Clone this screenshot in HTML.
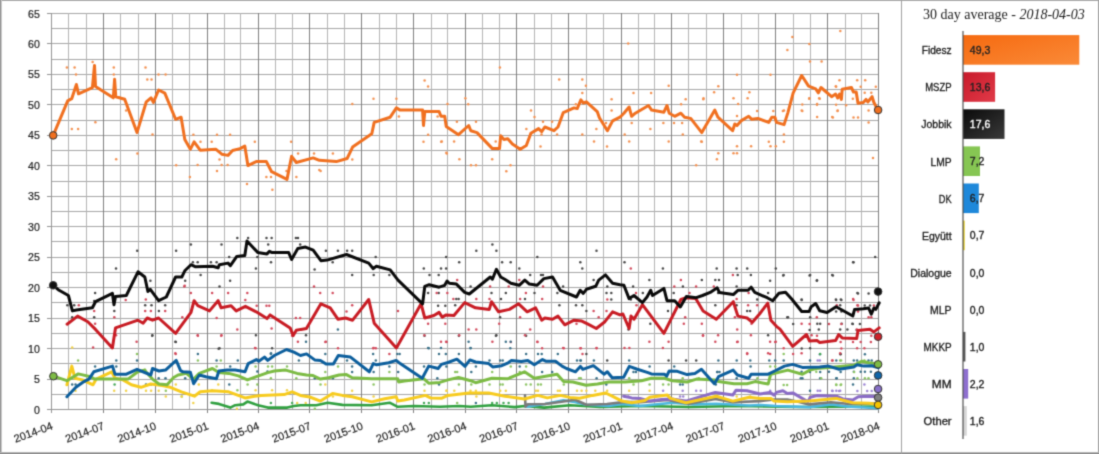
<!DOCTYPE html>
<html><head><meta charset="utf-8"><style>
html,body{margin:0;padding:0;background:#fff;}
body{width:1099px;height:454px;overflow:hidden;position:relative;}
svg{position:absolute;left:0;top:0;}
.yl{font-family:"Liberation Sans",sans-serif;font-size:10.6px;fill:#222;stroke:#222;stroke-width:0.2px;}
.xl{font-family:"Liberation Sans",sans-serif;font-size:11px;fill:#222;stroke:#222;stroke-width:0.2px;}
.bl{font-family:"Liberation Sans",sans-serif;font-size:10px;fill:#1c1c1c;stroke:#1c1c1c;stroke-width:0.3px;}
.bv{font-family:"Liberation Sans",sans-serif;font-size:10.5px;stroke-width:0.35px;}
.tt{font-family:"Liberation Serif",serif;font-size:14px;fill:#222;}
</style></head><body>
<svg width="1099" height="454" viewBox="0 0 1099 454">
<defs>
<filter id="soft" x="0" y="0" width="1099" height="454" filterUnits="userSpaceOnUse" color-interpolation-filters="sRGB"><feConvolveMatrix order="3" kernelMatrix="1 4 1 4 16 4 1 4 1" divisor="36" edgeMode="duplicate"/></filter>
<linearGradient id="gF" x1="0" y1="0" x2="1" y2="1"><stop offset="0" stop-color="#F66A10"/><stop offset="1" stop-color="#FA8A38"/></linearGradient>
<linearGradient id="gM" x1="0" y1="0" x2="1" y2="1"><stop offset="0" stop-color="#C81A2A"/><stop offset="1" stop-color="#E03A48"/></linearGradient>
<linearGradient id="gJ" x1="0" y1="0" x2="1" y2="1"><stop offset="0" stop-color="#0A0A0A"/><stop offset="1" stop-color="#3A3A3A"/></linearGradient>
</defs>
<g filter="url(#soft)">
<rect x="0" y="0" width="1099" height="454" fill="#fff"/>
<rect x="0" y="0" width="1099" height="1" fill="#A8A8A8"/>
<rect x="0" y="0" width="1" height="454" fill="#959595"/><rect x="1" y="0" width="1" height="454" fill="#C8C8C8"/>
<rect x="1098" y="0" width="1" height="454" fill="#A0A0A0"/>
<rect x="0" y="452" width="1099" height="1" fill="#B4B4B4"/><rect x="0" y="453" width="1099" height="1" fill="#8C8C8C"/>
<line x1="901.5" y1="0" x2="901.5" y2="454" stroke="#A0A0A0" stroke-width="1"/>
<line x1="51" y1="409.5" x2="879.0" y2="409.5" stroke="#A6A6A6" stroke-width="1"/>
<line x1="51" y1="394.5" x2="879.0" y2="394.5" stroke="#A6A6A6" stroke-width="1"/>
<line x1="51" y1="379.5" x2="879.0" y2="379.5" stroke="#A6A6A6" stroke-width="1"/>
<line x1="51" y1="363.5" x2="879.0" y2="363.5" stroke="#A6A6A6" stroke-width="1"/>
<line x1="51" y1="348.5" x2="879.0" y2="348.5" stroke="#A6A6A6" stroke-width="1"/>
<line x1="51" y1="333.5" x2="879.0" y2="333.5" stroke="#A6A6A6" stroke-width="1"/>
<line x1="51" y1="318.5" x2="879.0" y2="318.5" stroke="#A6A6A6" stroke-width="1"/>
<line x1="51" y1="302.5" x2="879.0" y2="302.5" stroke="#A6A6A6" stroke-width="1"/>
<line x1="51" y1="287.5" x2="879.0" y2="287.5" stroke="#A6A6A6" stroke-width="1"/>
<line x1="51" y1="272.5" x2="879.0" y2="272.5" stroke="#A6A6A6" stroke-width="1"/>
<line x1="51" y1="257.5" x2="879.0" y2="257.5" stroke="#A6A6A6" stroke-width="1"/>
<line x1="51" y1="241.5" x2="879.0" y2="241.5" stroke="#A6A6A6" stroke-width="1"/>
<line x1="51" y1="226.5" x2="879.0" y2="226.5" stroke="#A6A6A6" stroke-width="1"/>
<line x1="51" y1="211.5" x2="879.0" y2="211.5" stroke="#A6A6A6" stroke-width="1"/>
<line x1="51" y1="196.5" x2="879.0" y2="196.5" stroke="#A6A6A6" stroke-width="1"/>
<line x1="51" y1="181.5" x2="879.0" y2="181.5" stroke="#A6A6A6" stroke-width="1"/>
<line x1="51" y1="165.5" x2="879.0" y2="165.5" stroke="#A6A6A6" stroke-width="1"/>
<line x1="51" y1="150.5" x2="879.0" y2="150.5" stroke="#A6A6A6" stroke-width="1"/>
<line x1="51" y1="135.5" x2="879.0" y2="135.5" stroke="#A6A6A6" stroke-width="1"/>
<line x1="51" y1="120.5" x2="879.0" y2="120.5" stroke="#A6A6A6" stroke-width="1"/>
<line x1="51" y1="104.5" x2="879.0" y2="104.5" stroke="#A6A6A6" stroke-width="1"/>
<line x1="51" y1="89.5" x2="879.0" y2="89.5" stroke="#A6A6A6" stroke-width="1"/>
<line x1="51" y1="74.5" x2="879.0" y2="74.5" stroke="#A6A6A6" stroke-width="1"/>
<line x1="51" y1="59.5" x2="879.0" y2="59.5" stroke="#A6A6A6" stroke-width="1"/>
<line x1="51" y1="43.5" x2="879.0" y2="43.5" stroke="#A6A6A6" stroke-width="1"/>
<line x1="51" y1="28.5" x2="879.0" y2="28.5" stroke="#A6A6A6" stroke-width="1"/>
<line x1="51" y1="13.5" x2="879.0" y2="13.5" stroke="#A6A6A6" stroke-width="1"/>
<line x1="68.5" y1="13" x2="68.5" y2="409" stroke="#B4B4B4" stroke-width="1"/>
<line x1="86.5" y1="13" x2="86.5" y2="409" stroke="#B4B4B4" stroke-width="1"/>
<line x1="103.5" y1="13" x2="103.5" y2="409" stroke="#7F7F7F" stroke-width="1"/>
<line x1="103.5" y1="409" x2="103.5" y2="413" stroke="#808080" stroke-width="1"/>
<line x1="120.5" y1="13" x2="120.5" y2="409" stroke="#B4B4B4" stroke-width="1"/>
<line x1="138.5" y1="13" x2="138.5" y2="409" stroke="#B4B4B4" stroke-width="1"/>
<line x1="155.5" y1="13" x2="155.5" y2="409" stroke="#7F7F7F" stroke-width="1"/>
<line x1="155.5" y1="409" x2="155.5" y2="413" stroke="#808080" stroke-width="1"/>
<line x1="172.5" y1="13" x2="172.5" y2="409" stroke="#B4B4B4" stroke-width="1"/>
<line x1="189.5" y1="13" x2="189.5" y2="409" stroke="#B4B4B4" stroke-width="1"/>
<line x1="207.5" y1="13" x2="207.5" y2="409" stroke="#7F7F7F" stroke-width="1"/>
<line x1="207.5" y1="409" x2="207.5" y2="413" stroke="#808080" stroke-width="1"/>
<line x1="224.5" y1="13" x2="224.5" y2="409" stroke="#B4B4B4" stroke-width="1"/>
<line x1="240.5" y1="13" x2="240.5" y2="409" stroke="#B4B4B4" stroke-width="1"/>
<line x1="258.5" y1="13" x2="258.5" y2="409" stroke="#7F7F7F" stroke-width="1"/>
<line x1="258.5" y1="409" x2="258.5" y2="413" stroke="#808080" stroke-width="1"/>
<line x1="275.5" y1="13" x2="275.5" y2="409" stroke="#B4B4B4" stroke-width="1"/>
<line x1="292.5" y1="13" x2="292.5" y2="409" stroke="#B4B4B4" stroke-width="1"/>
<line x1="309.5" y1="13" x2="309.5" y2="409" stroke="#7F7F7F" stroke-width="1"/>
<line x1="309.5" y1="409" x2="309.5" y2="413" stroke="#808080" stroke-width="1"/>
<line x1="327.5" y1="13" x2="327.5" y2="409" stroke="#B4B4B4" stroke-width="1"/>
<line x1="344.5" y1="13" x2="344.5" y2="409" stroke="#B4B4B4" stroke-width="1"/>
<line x1="361.5" y1="13" x2="361.5" y2="409" stroke="#7F7F7F" stroke-width="1"/>
<line x1="361.5" y1="409" x2="361.5" y2="413" stroke="#808080" stroke-width="1"/>
<line x1="379.5" y1="13" x2="379.5" y2="409" stroke="#B4B4B4" stroke-width="1"/>
<line x1="396.5" y1="13" x2="396.5" y2="409" stroke="#B4B4B4" stroke-width="1"/>
<line x1="413.5" y1="13" x2="413.5" y2="409" stroke="#7F7F7F" stroke-width="1"/>
<line x1="413.5" y1="409" x2="413.5" y2="413" stroke="#808080" stroke-width="1"/>
<line x1="431.5" y1="13" x2="431.5" y2="409" stroke="#B4B4B4" stroke-width="1"/>
<line x1="447.5" y1="13" x2="447.5" y2="409" stroke="#B4B4B4" stroke-width="1"/>
<line x1="465.5" y1="13" x2="465.5" y2="409" stroke="#7F7F7F" stroke-width="1"/>
<line x1="465.5" y1="409" x2="465.5" y2="413" stroke="#808080" stroke-width="1"/>
<line x1="482.5" y1="13" x2="482.5" y2="409" stroke="#B4B4B4" stroke-width="1"/>
<line x1="499.5" y1="13" x2="499.5" y2="409" stroke="#B4B4B4" stroke-width="1"/>
<line x1="516.5" y1="13" x2="516.5" y2="409" stroke="#7F7F7F" stroke-width="1"/>
<line x1="516.5" y1="409" x2="516.5" y2="413" stroke="#808080" stroke-width="1"/>
<line x1="534.5" y1="13" x2="534.5" y2="409" stroke="#B4B4B4" stroke-width="1"/>
<line x1="551.5" y1="13" x2="551.5" y2="409" stroke="#B4B4B4" stroke-width="1"/>
<line x1="568.5" y1="13" x2="568.5" y2="409" stroke="#7F7F7F" stroke-width="1"/>
<line x1="568.5" y1="409" x2="568.5" y2="413" stroke="#808080" stroke-width="1"/>
<line x1="586.5" y1="13" x2="586.5" y2="409" stroke="#B4B4B4" stroke-width="1"/>
<line x1="603.5" y1="13" x2="603.5" y2="409" stroke="#B4B4B4" stroke-width="1"/>
<line x1="621.5" y1="13" x2="621.5" y2="409" stroke="#7F7F7F" stroke-width="1"/>
<line x1="621.5" y1="409" x2="621.5" y2="413" stroke="#808080" stroke-width="1"/>
<line x1="638.5" y1="13" x2="638.5" y2="409" stroke="#B4B4B4" stroke-width="1"/>
<line x1="654.5" y1="13" x2="654.5" y2="409" stroke="#B4B4B4" stroke-width="1"/>
<line x1="671.5" y1="13" x2="671.5" y2="409" stroke="#7F7F7F" stroke-width="1"/>
<line x1="671.5" y1="409" x2="671.5" y2="413" stroke="#808080" stroke-width="1"/>
<line x1="688.5" y1="13" x2="688.5" y2="409" stroke="#B4B4B4" stroke-width="1"/>
<line x1="706.5" y1="13" x2="706.5" y2="409" stroke="#B4B4B4" stroke-width="1"/>
<line x1="723.5" y1="13" x2="723.5" y2="409" stroke="#7F7F7F" stroke-width="1"/>
<line x1="723.5" y1="409" x2="723.5" y2="413" stroke="#808080" stroke-width="1"/>
<line x1="741.5" y1="13" x2="741.5" y2="409" stroke="#B4B4B4" stroke-width="1"/>
<line x1="758.5" y1="13" x2="758.5" y2="409" stroke="#B4B4B4" stroke-width="1"/>
<line x1="775.5" y1="13" x2="775.5" y2="409" stroke="#7F7F7F" stroke-width="1"/>
<line x1="775.5" y1="409" x2="775.5" y2="413" stroke="#808080" stroke-width="1"/>
<line x1="793.5" y1="13" x2="793.5" y2="409" stroke="#B4B4B4" stroke-width="1"/>
<line x1="810.5" y1="13" x2="810.5" y2="409" stroke="#B4B4B4" stroke-width="1"/>
<line x1="827.5" y1="13" x2="827.5" y2="409" stroke="#7F7F7F" stroke-width="1"/>
<line x1="827.5" y1="409" x2="827.5" y2="413" stroke="#808080" stroke-width="1"/>
<line x1="845.5" y1="13" x2="845.5" y2="409" stroke="#B4B4B4" stroke-width="1"/>
<line x1="861.5" y1="13" x2="861.5" y2="409" stroke="#B4B4B4" stroke-width="1"/>
<line x1="878.5" y1="13" x2="878.5" y2="409" stroke="#7F7F7F" stroke-width="1"/>
<line x1="878.5" y1="409" x2="878.5" y2="413" stroke="#808080" stroke-width="1"/>
<line x1="51.5" y1="13" x2="51.5" y2="413" stroke="#959595" stroke-width="1"/>
<line x1="47" y1="409.5" x2="879.0" y2="409.5" stroke="#959595" stroke-width="1"/>
<line x1="47" y1="409.5" x2="51" y2="409.5" stroke="#959595" stroke-width="1"/>
<line x1="47" y1="379.5" x2="51" y2="379.5" stroke="#959595" stroke-width="1"/>
<line x1="47" y1="348.5" x2="51" y2="348.5" stroke="#959595" stroke-width="1"/>
<line x1="47" y1="318.5" x2="51" y2="318.5" stroke="#959595" stroke-width="1"/>
<line x1="47" y1="287.5" x2="51" y2="287.5" stroke="#959595" stroke-width="1"/>
<line x1="47" y1="257.5" x2="51" y2="257.5" stroke="#959595" stroke-width="1"/>
<line x1="47" y1="226.5" x2="51" y2="226.5" stroke="#959595" stroke-width="1"/>
<line x1="47" y1="196.5" x2="51" y2="196.5" stroke="#959595" stroke-width="1"/>
<line x1="47" y1="165.5" x2="51" y2="165.5" stroke="#959595" stroke-width="1"/>
<line x1="47" y1="135.5" x2="51" y2="135.5" stroke="#959595" stroke-width="1"/>
<line x1="47" y1="104.5" x2="51" y2="104.5" stroke="#959595" stroke-width="1"/>
<line x1="47" y1="74.5" x2="51" y2="74.5" stroke="#959595" stroke-width="1"/>
<line x1="47" y1="43.5" x2="51" y2="43.5" stroke="#959595" stroke-width="1"/>
<line x1="47" y1="13.5" x2="51" y2="13.5" stroke="#959595" stroke-width="1"/>
<text x="39.8" y="413.5" text-anchor="end" class="yl">0</text>
<text x="39.8" y="383.0" text-anchor="end" class="yl">5</text>
<text x="39.8" y="352.6" text-anchor="end" class="yl">10</text>
<text x="39.8" y="322.1" text-anchor="end" class="yl">15</text>
<text x="39.8" y="291.6" text-anchor="end" class="yl">20</text>
<text x="39.8" y="261.2" text-anchor="end" class="yl">25</text>
<text x="39.8" y="230.7" text-anchor="end" class="yl">30</text>
<text x="39.8" y="200.3" text-anchor="end" class="yl">35</text>
<text x="39.8" y="169.8" text-anchor="end" class="yl">40</text>
<text x="39.8" y="139.3" text-anchor="end" class="yl">45</text>
<text x="39.8" y="108.9" text-anchor="end" class="yl">50</text>
<text x="39.8" y="78.4" text-anchor="end" class="yl">55</text>
<text x="39.8" y="48.0" text-anchor="end" class="yl">60</text>
<text x="39.8" y="17.5" text-anchor="end" class="yl">65</text>
<text x="53.5" y="429.0" text-anchor="end" class="xl" transform="rotate(-20 53.5 429.0)">2014-04</text>
<text x="105.0" y="429.0" text-anchor="end" class="xl" transform="rotate(-20 105.0 429.0)">2014-07</text>
<text x="157.1" y="429.0" text-anchor="end" class="xl" transform="rotate(-20 157.1 429.0)">2014-10</text>
<text x="209.2" y="429.0" text-anchor="end" class="xl" transform="rotate(-20 209.2 429.0)">2015-01</text>
<text x="260.1" y="429.0" text-anchor="end" class="xl" transform="rotate(-20 260.1 429.0)">2015-04</text>
<text x="311.7" y="429.0" text-anchor="end" class="xl" transform="rotate(-20 311.7 429.0)">2015-07</text>
<text x="363.7" y="429.0" text-anchor="end" class="xl" transform="rotate(-20 363.7 429.0)">2015-10</text>
<text x="415.8" y="429.0" text-anchor="end" class="xl" transform="rotate(-20 415.8 429.0)">2016-01</text>
<text x="467.3" y="429.0" text-anchor="end" class="xl" transform="rotate(-20 467.3 429.0)">2016-04</text>
<text x="518.9" y="429.0" text-anchor="end" class="xl" transform="rotate(-20 518.9 429.0)">2016-07</text>
<text x="570.9" y="429.0" text-anchor="end" class="xl" transform="rotate(-20 570.9 429.0)">2016-10</text>
<text x="623.0" y="429.0" text-anchor="end" class="xl" transform="rotate(-20 623.0 429.0)">2017-01</text>
<text x="674.0" y="429.0" text-anchor="end" class="xl" transform="rotate(-20 674.0 429.0)">2017-04</text>
<text x="725.5" y="429.0" text-anchor="end" class="xl" transform="rotate(-20 725.5 429.0)">2017-07</text>
<text x="777.6" y="429.0" text-anchor="end" class="xl" transform="rotate(-20 777.6 429.0)">2017-10</text>
<text x="829.7" y="429.0" text-anchor="end" class="xl" transform="rotate(-20 829.7 429.0)">2018-01</text>
<text x="880.6" y="429.0" text-anchor="end" class="xl" transform="rotate(-20 880.6 429.0)">2018-04</text>
<circle cx="66.9" cy="67.5" r="1.25" fill="#F39050"/>
<circle cx="74.6" cy="67.5" r="1.25" fill="#F39050"/>
<circle cx="76.0" cy="74.6" r="1.25" fill="#F39050"/>
<circle cx="92.6" cy="61.9" r="1.25" fill="#F39050"/>
<circle cx="113.8" cy="67.5" r="1.25" fill="#F39050"/>
<circle cx="113.8" cy="74.6" r="1.25" fill="#F39050"/>
<circle cx="145.5" cy="67.5" r="1.25" fill="#F39050"/>
<circle cx="147.3" cy="79.5" r="1.25" fill="#F39050"/>
<circle cx="151.5" cy="79.5" r="1.25" fill="#F39050"/>
<circle cx="158.5" cy="74.6" r="1.25" fill="#F39050"/>
<circle cx="165.6" cy="74.6" r="1.25" fill="#F39050"/>
<circle cx="71.8" cy="128.9" r="1.25" fill="#F39050"/>
<circle cx="78.1" cy="128.9" r="1.25" fill="#F39050"/>
<circle cx="95.4" cy="122.2" r="1.25" fill="#F39050"/>
<circle cx="126.1" cy="110.5" r="1.25" fill="#F39050"/>
<circle cx="152.5" cy="134.5" r="1.25" fill="#F39050"/>
<circle cx="137.4" cy="153.5" r="1.25" fill="#F39050"/>
<circle cx="116.2" cy="159.2" r="1.25" fill="#F39050"/>
<circle cx="176.2" cy="165.2" r="1.25" fill="#F39050"/>
<circle cx="193.4" cy="134.8" r="1.25" fill="#F39050"/>
<circle cx="200.5" cy="141.8" r="1.25" fill="#F39050"/>
<circle cx="211.7" cy="141.8" r="1.25" fill="#F39050"/>
<circle cx="217.0" cy="134.8" r="1.25" fill="#F39050"/>
<circle cx="230.1" cy="134.8" r="1.25" fill="#F39050"/>
<circle cx="254.8" cy="141.8" r="1.25" fill="#F39050"/>
<circle cx="219.5" cy="159.4" r="1.25" fill="#F39050"/>
<circle cx="221.6" cy="165.1" r="1.25" fill="#F39050"/>
<circle cx="227.6" cy="165.1" r="1.25" fill="#F39050"/>
<circle cx="197.6" cy="165.1" r="1.25" fill="#F39050"/>
<circle cx="189.9" cy="177.1" r="1.25" fill="#F39050"/>
<circle cx="217.0" cy="171.1" r="1.25" fill="#F39050"/>
<circle cx="247.0" cy="184.1" r="1.25" fill="#F39050"/>
<circle cx="266.4" cy="177.1" r="1.25" fill="#F39050"/>
<circle cx="271.0" cy="177.1" r="1.25" fill="#F39050"/>
<circle cx="272.4" cy="189.8" r="1.25" fill="#F39050"/>
<circle cx="291.1" cy="141.8" r="1.25" fill="#F39050"/>
<circle cx="298.1" cy="153.4" r="1.25" fill="#F39050"/>
<circle cx="314.0" cy="153.4" r="1.25" fill="#F39050"/>
<circle cx="296.4" cy="177.1" r="1.25" fill="#F39050"/>
<circle cx="286.5" cy="171.1" r="1.25" fill="#F39050"/>
<circle cx="319.3" cy="170.0" r="1.25" fill="#F39050"/>
<circle cx="332.9" cy="153.4" r="1.25" fill="#F39050"/>
<circle cx="320.6" cy="171.1" r="1.25" fill="#F39050"/>
<circle cx="352.3" cy="159.4" r="1.25" fill="#F39050"/>
<circle cx="352.3" cy="104.1" r="1.25" fill="#F39050"/>
<circle cx="373.5" cy="98.8" r="1.25" fill="#F39050"/>
<circle cx="396.4" cy="98.8" r="1.25" fill="#F39050"/>
<circle cx="398.9" cy="116.4" r="1.25" fill="#F39050"/>
<circle cx="424.6" cy="80.5" r="1.25" fill="#F39050"/>
<circle cx="428.1" cy="86.4" r="1.25" fill="#F39050"/>
<circle cx="428.1" cy="134.8" r="1.25" fill="#F39050"/>
<circle cx="423.5" cy="141.8" r="1.25" fill="#F39050"/>
<circle cx="441.2" cy="141.8" r="1.25" fill="#F39050"/>
<circle cx="446.8" cy="153.4" r="1.25" fill="#F39050"/>
<circle cx="447.5" cy="104.1" r="1.25" fill="#F39050"/>
<circle cx="437.6" cy="116.4" r="1.25" fill="#F39050"/>
<circle cx="499.9" cy="67.5" r="1.25" fill="#F39050"/>
<circle cx="559.2" cy="79.5" r="1.25" fill="#F39050"/>
<circle cx="465.4" cy="98.2" r="1.25" fill="#F39050"/>
<circle cx="468.2" cy="104.2" r="1.25" fill="#F39050"/>
<circle cx="456.9" cy="121.8" r="1.25" fill="#F39050"/>
<circle cx="476.0" cy="121.8" r="1.25" fill="#F39050"/>
<circle cx="441.8" cy="141.6" r="1.25" fill="#F39050"/>
<circle cx="454.1" cy="141.6" r="1.25" fill="#F39050"/>
<circle cx="446.3" cy="152.8" r="1.25" fill="#F39050"/>
<circle cx="459.4" cy="159.2" r="1.25" fill="#F39050"/>
<circle cx="471.0" cy="165.2" r="1.25" fill="#F39050"/>
<circle cx="476.0" cy="165.2" r="1.25" fill="#F39050"/>
<circle cx="492.2" cy="159.2" r="1.25" fill="#F39050"/>
<circle cx="495.7" cy="141.6" r="1.25" fill="#F39050"/>
<circle cx="506.3" cy="171.2" r="1.25" fill="#F39050"/>
<circle cx="510.5" cy="165.2" r="1.25" fill="#F39050"/>
<circle cx="531.0" cy="110.5" r="1.25" fill="#F39050"/>
<circle cx="534.5" cy="116.9" r="1.25" fill="#F39050"/>
<circle cx="526.4" cy="128.9" r="1.25" fill="#F39050"/>
<circle cx="543.0" cy="121.8" r="1.25" fill="#F39050"/>
<circle cx="552.1" cy="121.8" r="1.25" fill="#F39050"/>
<circle cx="541.5" cy="134.5" r="1.25" fill="#F39050"/>
<circle cx="557.1" cy="134.5" r="1.25" fill="#F39050"/>
<circle cx="540.5" cy="146.5" r="1.25" fill="#F39050"/>
<circle cx="575.8" cy="104.2" r="1.25" fill="#F39050"/>
<circle cx="628.2" cy="43.5" r="1.25" fill="#F39050"/>
<circle cx="582.3" cy="79.5" r="1.25" fill="#F39050"/>
<circle cx="585.9" cy="85.8" r="1.25" fill="#F39050"/>
<circle cx="582.3" cy="92.9" r="1.25" fill="#F39050"/>
<circle cx="611.6" cy="99.2" r="1.25" fill="#F39050"/>
<circle cx="633.5" cy="92.9" r="1.25" fill="#F39050"/>
<circle cx="651.1" cy="92.9" r="1.25" fill="#F39050"/>
<circle cx="668.7" cy="85.8" r="1.25" fill="#F39050"/>
<circle cx="685.7" cy="99.2" r="1.25" fill="#F39050"/>
<circle cx="703.3" cy="99.2" r="1.25" fill="#F39050"/>
<circle cx="681.1" cy="104.2" r="1.25" fill="#F39050"/>
<circle cx="611.6" cy="110.5" r="1.25" fill="#F39050"/>
<circle cx="596.4" cy="128.9" r="1.25" fill="#F39050"/>
<circle cx="582.3" cy="134.5" r="1.25" fill="#F39050"/>
<circle cx="594.0" cy="141.6" r="1.25" fill="#F39050"/>
<circle cx="606.0" cy="122.9" r="1.25" fill="#F39050"/>
<circle cx="607.0" cy="146.5" r="1.25" fill="#F39050"/>
<circle cx="624.7" cy="134.5" r="1.25" fill="#F39050"/>
<circle cx="629.2" cy="141.6" r="1.25" fill="#F39050"/>
<circle cx="631.7" cy="122.9" r="1.25" fill="#F39050"/>
<circle cx="650.4" cy="128.9" r="1.25" fill="#F39050"/>
<circle cx="663.4" cy="122.9" r="1.25" fill="#F39050"/>
<circle cx="674.0" cy="122.9" r="1.25" fill="#F39050"/>
<circle cx="682.1" cy="122.9" r="1.25" fill="#F39050"/>
<circle cx="682.8" cy="134.5" r="1.25" fill="#F39050"/>
<circle cx="668.7" cy="141.6" r="1.25" fill="#F39050"/>
<circle cx="701.2" cy="141.6" r="1.25" fill="#F39050"/>
<circle cx="696.2" cy="165.2" r="1.25" fill="#F39050"/>
<circle cx="792.4" cy="36.9" r="1.25" fill="#F39050"/>
<circle cx="787.4" cy="50.0" r="1.25" fill="#F39050"/>
<circle cx="809.3" cy="44.0" r="1.25" fill="#F39050"/>
<circle cx="810.0" cy="61.6" r="1.25" fill="#F39050"/>
<circle cx="821.6" cy="61.6" r="1.25" fill="#F39050"/>
<circle cx="737.0" cy="74.7" r="1.25" fill="#F39050"/>
<circle cx="770.5" cy="74.7" r="1.25" fill="#F39050"/>
<circle cx="718.3" cy="86.3" r="1.25" fill="#F39050"/>
<circle cx="714.1" cy="92.3" r="1.25" fill="#F39050"/>
<circle cx="703.5" cy="98.3" r="1.25" fill="#F39050"/>
<circle cx="733.5" cy="98.3" r="1.25" fill="#F39050"/>
<circle cx="749.4" cy="92.3" r="1.25" fill="#F39050"/>
<circle cx="738.1" cy="103.9" r="1.25" fill="#F39050"/>
<circle cx="747.6" cy="98.3" r="1.25" fill="#F39050"/>
<circle cx="757.1" cy="111.0" r="1.25" fill="#F39050"/>
<circle cx="773.3" cy="111.0" r="1.25" fill="#F39050"/>
<circle cx="782.9" cy="111.0" r="1.25" fill="#F39050"/>
<circle cx="737.0" cy="115.9" r="1.25" fill="#F39050"/>
<circle cx="802.3" cy="104.6" r="1.25" fill="#F39050"/>
<circle cx="802.3" cy="111.0" r="1.25" fill="#F39050"/>
<circle cx="809.3" cy="98.3" r="1.25" fill="#F39050"/>
<circle cx="819.2" cy="98.3" r="1.25" fill="#F39050"/>
<circle cx="817.1" cy="103.9" r="1.25" fill="#F39050"/>
<circle cx="835.8" cy="86.3" r="1.25" fill="#F39050"/>
<circle cx="837.5" cy="111.0" r="1.25" fill="#F39050"/>
<circle cx="832.2" cy="117.0" r="1.25" fill="#F39050"/>
<circle cx="817.1" cy="117.0" r="1.25" fill="#F39050"/>
<circle cx="701.8" cy="141.7" r="1.25" fill="#F39050"/>
<circle cx="718.3" cy="153.3" r="1.25" fill="#F39050"/>
<circle cx="716.9" cy="159.3" r="1.25" fill="#F39050"/>
<circle cx="733.5" cy="153.3" r="1.25" fill="#F39050"/>
<circle cx="737.0" cy="153.3" r="1.25" fill="#F39050"/>
<circle cx="737.0" cy="146.2" r="1.25" fill="#F39050"/>
<circle cx="751.1" cy="146.2" r="1.25" fill="#F39050"/>
<circle cx="768.8" cy="141.7" r="1.25" fill="#F39050"/>
<circle cx="770.5" cy="146.2" r="1.25" fill="#F39050"/>
<circle cx="775.8" cy="146.2" r="1.25" fill="#F39050"/>
<circle cx="783.9" cy="134.6" r="1.25" fill="#F39050"/>
<circle cx="783.9" cy="141.7" r="1.25" fill="#F39050"/>
<circle cx="840.3" cy="31.1" r="1.25" fill="#F39050"/>
<circle cx="839.5" cy="80.3" r="1.25" fill="#F39050"/>
<circle cx="857.2" cy="80.3" r="1.25" fill="#F39050"/>
<circle cx="865.2" cy="80.3" r="1.25" fill="#F39050"/>
<circle cx="836.1" cy="86.7" r="1.25" fill="#F39050"/>
<circle cx="860.7" cy="86.7" r="1.25" fill="#F39050"/>
<circle cx="875.8" cy="86.7" r="1.25" fill="#F39050"/>
<circle cx="864.7" cy="92.8" r="1.25" fill="#F39050"/>
<circle cx="871.3" cy="92.8" r="1.25" fill="#F39050"/>
<circle cx="809.1" cy="98.8" r="1.25" fill="#F39050"/>
<circle cx="819.7" cy="98.8" r="1.25" fill="#F39050"/>
<circle cx="852.8" cy="98.8" r="1.25" fill="#F39050"/>
<circle cx="817.0" cy="104.7" r="1.25" fill="#F39050"/>
<circle cx="836.1" cy="104.7" r="1.25" fill="#F39050"/>
<circle cx="846.1" cy="105.2" r="1.25" fill="#F39050"/>
<circle cx="784.0" cy="110.5" r="1.25" fill="#F39050"/>
<circle cx="801.7" cy="110.5" r="1.25" fill="#F39050"/>
<circle cx="837.7" cy="110.5" r="1.25" fill="#F39050"/>
<circle cx="868.6" cy="110.5" r="1.25" fill="#F39050"/>
<circle cx="832.9" cy="117.4" r="1.25" fill="#F39050"/>
<circle cx="853.5" cy="117.4" r="1.25" fill="#F39050"/>
<circle cx="858.0" cy="117.4" r="1.25" fill="#F39050"/>
<circle cx="868.6" cy="122.6" r="1.25" fill="#F39050"/>
<circle cx="873.0" cy="158.0" r="1.25" fill="#F39050"/>
<circle cx="137.2" cy="250.8" r="1.25" fill="#484848"/>
<circle cx="176.1" cy="250.8" r="1.25" fill="#484848"/>
<circle cx="116.0" cy="268.5" r="1.25" fill="#484848"/>
<circle cx="150.4" cy="280.8" r="1.25" fill="#484848"/>
<circle cx="95.1" cy="293.1" r="1.25" fill="#484848"/>
<circle cx="67.3" cy="305.2" r="1.25" fill="#484848"/>
<circle cx="74.2" cy="305.2" r="1.25" fill="#484848"/>
<circle cx="94.2" cy="300.9" r="1.25" fill="#484848"/>
<circle cx="145.2" cy="305.2" r="1.25" fill="#484848"/>
<circle cx="151.5" cy="305.2" r="1.25" fill="#484848"/>
<circle cx="165.2" cy="305.2" r="1.25" fill="#484848"/>
<circle cx="158.9" cy="310.9" r="1.25" fill="#484848"/>
<circle cx="114.3" cy="310.9" r="1.25" fill="#484848"/>
<circle cx="94.2" cy="317.2" r="1.25" fill="#484848"/>
<circle cx="72.2" cy="317.2" r="1.25" fill="#484848"/>
<circle cx="152.4" cy="335.2" r="1.25" fill="#484848"/>
<circle cx="175.3" cy="341.8" r="1.25" fill="#484848"/>
<circle cx="190.9" cy="244.5" r="1.25" fill="#484848"/>
<circle cx="221.5" cy="244.5" r="1.25" fill="#484848"/>
<circle cx="237.3" cy="237.9" r="1.25" fill="#484848"/>
<circle cx="248.1" cy="237.9" r="1.25" fill="#484848"/>
<circle cx="266.5" cy="237.9" r="1.25" fill="#484848"/>
<circle cx="271.6" cy="237.9" r="1.25" fill="#484848"/>
<circle cx="268.2" cy="244.5" r="1.25" fill="#484848"/>
<circle cx="295.9" cy="237.9" r="1.25" fill="#484848"/>
<circle cx="298.0" cy="237.9" r="1.25" fill="#484848"/>
<circle cx="300.2" cy="244.5" r="1.25" fill="#484848"/>
<circle cx="192.9" cy="262.2" r="1.25" fill="#484848"/>
<circle cx="197.7" cy="262.2" r="1.25" fill="#484848"/>
<circle cx="210.9" cy="262.2" r="1.25" fill="#484848"/>
<circle cx="216.6" cy="262.2" r="1.25" fill="#484848"/>
<circle cx="229.2" cy="257.1" r="1.25" fill="#484848"/>
<circle cx="257.3" cy="257.1" r="1.25" fill="#484848"/>
<circle cx="271.0" cy="262.2" r="1.25" fill="#484848"/>
<circle cx="255.9" cy="268.5" r="1.25" fill="#484848"/>
<circle cx="200.6" cy="275.1" r="1.25" fill="#484848"/>
<circle cx="185.2" cy="280.8" r="1.25" fill="#484848"/>
<circle cx="230.1" cy="280.8" r="1.25" fill="#484848"/>
<circle cx="314.6" cy="269.4" r="1.25" fill="#484848"/>
<circle cx="219.5" cy="286.6" r="1.25" fill="#484848"/>
<circle cx="255.9" cy="335.2" r="1.25" fill="#484848"/>
<circle cx="218.6" cy="348.7" r="1.25" fill="#484848"/>
<circle cx="306.0" cy="335.2" r="1.25" fill="#484848"/>
<circle cx="325.9" cy="250.8" r="1.25" fill="#484848"/>
<circle cx="337.9" cy="250.8" r="1.25" fill="#484848"/>
<circle cx="347.1" cy="250.8" r="1.25" fill="#484848"/>
<circle cx="352.2" cy="250.8" r="1.25" fill="#484848"/>
<circle cx="332.7" cy="262.2" r="1.25" fill="#484848"/>
<circle cx="375.7" cy="257.1" r="1.25" fill="#484848"/>
<circle cx="352.2" cy="275.1" r="1.25" fill="#484848"/>
<circle cx="373.7" cy="275.1" r="1.25" fill="#484848"/>
<circle cx="389.4" cy="275.1" r="1.25" fill="#484848"/>
<circle cx="423.8" cy="268.5" r="1.25" fill="#484848"/>
<circle cx="441.0" cy="268.5" r="1.25" fill="#484848"/>
<circle cx="446.1" cy="268.5" r="1.25" fill="#484848"/>
<circle cx="429.5" cy="275.1" r="1.25" fill="#484848"/>
<circle cx="438.7" cy="275.1" r="1.25" fill="#484848"/>
<circle cx="446.1" cy="257.1" r="1.25" fill="#484848"/>
<circle cx="428.1" cy="293.1" r="1.25" fill="#484848"/>
<circle cx="438.7" cy="293.1" r="1.25" fill="#484848"/>
<circle cx="438.1" cy="305.7" r="1.25" fill="#484848"/>
<circle cx="445.3" cy="305.7" r="1.25" fill="#484848"/>
<circle cx="492.4" cy="244.5" r="1.25" fill="#484848"/>
<circle cx="476.3" cy="250.8" r="1.25" fill="#484848"/>
<circle cx="496.4" cy="250.8" r="1.25" fill="#484848"/>
<circle cx="537.3" cy="257.1" r="1.25" fill="#484848"/>
<circle cx="459.2" cy="262.2" r="1.25" fill="#484848"/>
<circle cx="502.1" cy="262.2" r="1.25" fill="#484848"/>
<circle cx="510.7" cy="262.2" r="1.25" fill="#484848"/>
<circle cx="580.3" cy="262.2" r="1.25" fill="#484848"/>
<circle cx="519.3" cy="268.5" r="1.25" fill="#484848"/>
<circle cx="582.3" cy="268.5" r="1.25" fill="#484848"/>
<circle cx="530.2" cy="275.1" r="1.25" fill="#484848"/>
<circle cx="541.0" cy="275.1" r="1.25" fill="#484848"/>
<circle cx="543.0" cy="275.1" r="1.25" fill="#484848"/>
<circle cx="470.6" cy="286.6" r="1.25" fill="#484848"/>
<circle cx="491.5" cy="293.1" r="1.25" fill="#484848"/>
<circle cx="505.8" cy="293.1" r="1.25" fill="#484848"/>
<circle cx="534.5" cy="293.1" r="1.25" fill="#484848"/>
<circle cx="557.4" cy="293.1" r="1.25" fill="#484848"/>
<circle cx="563.1" cy="286.6" r="1.25" fill="#484848"/>
<circle cx="456.3" cy="298.9" r="1.25" fill="#484848"/>
<circle cx="458.6" cy="298.9" r="1.25" fill="#484848"/>
<circle cx="501.0" cy="298.9" r="1.25" fill="#484848"/>
<circle cx="525.0" cy="298.9" r="1.25" fill="#484848"/>
<circle cx="455.2" cy="305.2" r="1.25" fill="#484848"/>
<circle cx="559.4" cy="305.2" r="1.25" fill="#484848"/>
<circle cx="576.0" cy="305.2" r="1.25" fill="#484848"/>
<circle cx="582.3" cy="305.2" r="1.25" fill="#484848"/>
<circle cx="500.1" cy="317.2" r="1.25" fill="#484848"/>
<circle cx="496.4" cy="335.2" r="1.25" fill="#484848"/>
<circle cx="596.5" cy="250.8" r="1.25" fill="#484848"/>
<circle cx="624.5" cy="262.2" r="1.25" fill="#484848"/>
<circle cx="662.9" cy="268.5" r="1.25" fill="#484848"/>
<circle cx="716.7" cy="268.5" r="1.25" fill="#484848"/>
<circle cx="593.6" cy="280.0" r="1.25" fill="#484848"/>
<circle cx="649.4" cy="280.0" r="1.25" fill="#484848"/>
<circle cx="701.8" cy="280.0" r="1.25" fill="#484848"/>
<circle cx="715.3" cy="280.0" r="1.25" fill="#484848"/>
<circle cx="719.0" cy="280.0" r="1.25" fill="#484848"/>
<circle cx="607.3" cy="286.6" r="1.25" fill="#484848"/>
<circle cx="633.1" cy="286.6" r="1.25" fill="#484848"/>
<circle cx="682.9" cy="286.6" r="1.25" fill="#484848"/>
<circle cx="606.5" cy="293.1" r="1.25" fill="#484848"/>
<circle cx="611.3" cy="293.1" r="1.25" fill="#484848"/>
<circle cx="642.8" cy="293.1" r="1.25" fill="#484848"/>
<circle cx="673.7" cy="293.1" r="1.25" fill="#484848"/>
<circle cx="611.3" cy="299.4" r="1.25" fill="#484848"/>
<circle cx="630.8" cy="299.4" r="1.25" fill="#484848"/>
<circle cx="718.1" cy="293.1" r="1.25" fill="#484848"/>
<circle cx="715.3" cy="305.2" r="1.25" fill="#484848"/>
<circle cx="586.4" cy="310.9" r="1.25" fill="#484848"/>
<circle cx="668.0" cy="310.9" r="1.25" fill="#484848"/>
<circle cx="650.3" cy="323.8" r="1.25" fill="#484848"/>
<circle cx="628.5" cy="329.5" r="1.25" fill="#484848"/>
<circle cx="736.6" cy="268.5" r="1.25" fill="#484848"/>
<circle cx="747.2" cy="268.5" r="1.25" fill="#484848"/>
<circle cx="775.8" cy="268.5" r="1.25" fill="#484848"/>
<circle cx="853.1" cy="262.2" r="1.25" fill="#484848"/>
<circle cx="737.7" cy="275.1" r="1.25" fill="#484848"/>
<circle cx="750.9" cy="275.1" r="1.25" fill="#484848"/>
<circle cx="783.6" cy="275.1" r="1.25" fill="#484848"/>
<circle cx="810.2" cy="275.1" r="1.25" fill="#484848"/>
<circle cx="832.2" cy="275.1" r="1.25" fill="#484848"/>
<circle cx="770.1" cy="280.8" r="1.25" fill="#484848"/>
<circle cx="816.8" cy="280.8" r="1.25" fill="#484848"/>
<circle cx="736.6" cy="286.6" r="1.25" fill="#484848"/>
<circle cx="768.1" cy="293.1" r="1.25" fill="#484848"/>
<circle cx="757.2" cy="299.4" r="1.25" fill="#484848"/>
<circle cx="857.4" cy="293.1" r="1.25" fill="#484848"/>
<circle cx="801.6" cy="299.4" r="1.25" fill="#484848"/>
<circle cx="835.9" cy="299.4" r="1.25" fill="#484848"/>
<circle cx="840.8" cy="299.4" r="1.25" fill="#484848"/>
<circle cx="736.6" cy="305.2" r="1.25" fill="#484848"/>
<circle cx="840.2" cy="305.2" r="1.25" fill="#484848"/>
<circle cx="747.2" cy="310.9" r="1.25" fill="#484848"/>
<circle cx="750.1" cy="310.9" r="1.25" fill="#484848"/>
<circle cx="787.3" cy="317.2" r="1.25" fill="#484848"/>
<circle cx="810.2" cy="317.2" r="1.25" fill="#484848"/>
<circle cx="817.3" cy="323.8" r="1.25" fill="#484848"/>
<circle cx="820.2" cy="323.8" r="1.25" fill="#484848"/>
<circle cx="841.7" cy="323.8" r="1.25" fill="#484848"/>
<circle cx="852.3" cy="323.8" r="1.25" fill="#484848"/>
<circle cx="818.8" cy="329.5" r="1.25" fill="#484848"/>
<circle cx="840.2" cy="329.5" r="1.25" fill="#484848"/>
<circle cx="847.4" cy="329.5" r="1.25" fill="#484848"/>
<circle cx="768.1" cy="335.2" r="1.25" fill="#484848"/>
<circle cx="875.2" cy="257.0" r="1.25" fill="#484848"/>
<circle cx="853.5" cy="262.3" r="1.25" fill="#484848"/>
<circle cx="783.2" cy="275.5" r="1.25" fill="#484848"/>
<circle cx="809.6" cy="275.5" r="1.25" fill="#484848"/>
<circle cx="832.9" cy="275.5" r="1.25" fill="#484848"/>
<circle cx="817.0" cy="280.3" r="1.25" fill="#484848"/>
<circle cx="858.0" cy="293.5" r="1.25" fill="#484848"/>
<circle cx="868.6" cy="293.5" r="1.25" fill="#484848"/>
<circle cx="801.7" cy="300.1" r="1.25" fill="#484848"/>
<circle cx="836.1" cy="300.1" r="1.25" fill="#484848"/>
<circle cx="841.4" cy="300.1" r="1.25" fill="#484848"/>
<circle cx="864.7" cy="305.4" r="1.25" fill="#484848"/>
<circle cx="870.0" cy="305.4" r="1.25" fill="#484848"/>
<circle cx="836.1" cy="311.5" r="1.25" fill="#484848"/>
<circle cx="841.4" cy="311.5" r="1.25" fill="#484848"/>
<circle cx="788.0" cy="317.3" r="1.25" fill="#484848"/>
<circle cx="793.2" cy="323.9" r="1.25" fill="#484848"/>
<circle cx="852.8" cy="323.9" r="1.25" fill="#484848"/>
<circle cx="859.9" cy="323.9" r="1.25" fill="#484848"/>
<circle cx="809.6" cy="330.0" r="1.25" fill="#484848"/>
<circle cx="856.7" cy="330.0" r="1.25" fill="#484848"/>
<circle cx="801.7" cy="348.5" r="1.25" fill="#484848"/>
<circle cx="175.8" cy="342.1" r="1.25" fill="#484848"/>
<circle cx="219.5" cy="348.2" r="1.25" fill="#484848"/>
<circle cx="272.1" cy="348.2" r="1.25" fill="#484848"/>
<circle cx="152.2" cy="335.8" r="1.25" fill="#484848"/>
<circle cx="424.5" cy="335.8" r="1.25" fill="#484848"/>
<circle cx="458.9" cy="335.8" r="1.25" fill="#484848"/>
<circle cx="495.9" cy="335.8" r="1.25" fill="#484848"/>
<circle cx="526.1" cy="335.8" r="1.25" fill="#484848"/>
<circle cx="586.4" cy="354.0" r="1.25" fill="#484848"/>
<circle cx="607.2" cy="360.5" r="1.25" fill="#484848"/>
<circle cx="668.6" cy="360.5" r="1.25" fill="#484848"/>
<circle cx="686.1" cy="360.5" r="1.25" fill="#484848"/>
<circle cx="696.2" cy="360.5" r="1.25" fill="#484848"/>
<circle cx="840.6" cy="354.0" r="1.25" fill="#484848"/>
<circle cx="810.1" cy="348.2" r="1.25" fill="#484848"/>
<circle cx="840.4" cy="354.3" r="1.25" fill="#484848"/>
<circle cx="78.8" cy="305.2" r="1.25" fill="#D24A5C"/>
<circle cx="125.7" cy="300.0" r="1.25" fill="#D24A5C"/>
<circle cx="145.8" cy="299.4" r="1.25" fill="#D24A5C"/>
<circle cx="145.2" cy="310.9" r="1.25" fill="#D24A5C"/>
<circle cx="150.9" cy="310.9" r="1.25" fill="#D24A5C"/>
<circle cx="165.2" cy="310.9" r="1.25" fill="#D24A5C"/>
<circle cx="94.2" cy="310.9" r="1.25" fill="#D24A5C"/>
<circle cx="114.3" cy="317.2" r="1.25" fill="#D24A5C"/>
<circle cx="95.1" cy="323.8" r="1.25" fill="#D24A5C"/>
<circle cx="136.6" cy="341.8" r="1.25" fill="#D24A5C"/>
<circle cx="93.1" cy="347.5" r="1.25" fill="#D24A5C"/>
<circle cx="175.3" cy="353.3" r="1.25" fill="#D24A5C"/>
<circle cx="184.7" cy="285.7" r="1.25" fill="#D24A5C"/>
<circle cx="116.0" cy="335.2" r="1.25" fill="#D24A5C"/>
<circle cx="184.3" cy="286.6" r="1.25" fill="#D24A5C"/>
<circle cx="190.9" cy="293.1" r="1.25" fill="#D24A5C"/>
<circle cx="212.1" cy="293.1" r="1.25" fill="#D24A5C"/>
<circle cx="228.1" cy="293.1" r="1.25" fill="#D24A5C"/>
<circle cx="247.3" cy="293.1" r="1.25" fill="#D24A5C"/>
<circle cx="245.3" cy="300.0" r="1.25" fill="#D24A5C"/>
<circle cx="256.7" cy="305.7" r="1.25" fill="#D24A5C"/>
<circle cx="266.5" cy="305.7" r="1.25" fill="#D24A5C"/>
<circle cx="269.3" cy="305.7" r="1.25" fill="#D24A5C"/>
<circle cx="314.0" cy="286.6" r="1.25" fill="#D24A5C"/>
<circle cx="182.3" cy="317.2" r="1.25" fill="#D24A5C"/>
<circle cx="216.6" cy="318.0" r="1.25" fill="#D24A5C"/>
<circle cx="237.3" cy="329.5" r="1.25" fill="#D24A5C"/>
<circle cx="271.6" cy="328.6" r="1.25" fill="#D24A5C"/>
<circle cx="295.9" cy="318.0" r="1.25" fill="#D24A5C"/>
<circle cx="300.2" cy="318.0" r="1.25" fill="#D24A5C"/>
<circle cx="197.7" cy="335.2" r="1.25" fill="#D24A5C"/>
<circle cx="221.5" cy="335.2" r="1.25" fill="#D24A5C"/>
<circle cx="297.9" cy="341.8" r="1.25" fill="#D24A5C"/>
<circle cx="255.0" cy="348.1" r="1.25" fill="#D24A5C"/>
<circle cx="320.2" cy="293.1" r="1.25" fill="#D24A5C"/>
<circle cx="332.7" cy="293.1" r="1.25" fill="#D24A5C"/>
<circle cx="352.2" cy="305.2" r="1.25" fill="#D24A5C"/>
<circle cx="346.5" cy="311.5" r="1.25" fill="#D24A5C"/>
<circle cx="398.0" cy="310.9" r="1.25" fill="#D24A5C"/>
<circle cx="447.3" cy="293.1" r="1.25" fill="#D24A5C"/>
<circle cx="436.7" cy="293.1" r="1.25" fill="#D24A5C"/>
<circle cx="428.1" cy="323.8" r="1.25" fill="#D24A5C"/>
<circle cx="445.3" cy="323.8" r="1.25" fill="#D24A5C"/>
<circle cx="424.4" cy="335.2" r="1.25" fill="#D24A5C"/>
<circle cx="325.9" cy="341.8" r="1.25" fill="#D24A5C"/>
<circle cx="373.7" cy="348.1" r="1.25" fill="#D24A5C"/>
<circle cx="441.0" cy="341.8" r="1.25" fill="#D24A5C"/>
<circle cx="446.1" cy="341.8" r="1.25" fill="#D24A5C"/>
<circle cx="457.2" cy="280.0" r="1.25" fill="#D24A5C"/>
<circle cx="490.1" cy="286.6" r="1.25" fill="#D24A5C"/>
<circle cx="519.3" cy="280.0" r="1.25" fill="#D24A5C"/>
<circle cx="508.7" cy="286.6" r="1.25" fill="#D24A5C"/>
<circle cx="543.0" cy="286.6" r="1.25" fill="#D24A5C"/>
<circle cx="525.9" cy="293.1" r="1.25" fill="#D24A5C"/>
<circle cx="453.4" cy="298.9" r="1.25" fill="#D24A5C"/>
<circle cx="476.3" cy="298.9" r="1.25" fill="#D24A5C"/>
<circle cx="489.5" cy="298.9" r="1.25" fill="#D24A5C"/>
<circle cx="520.1" cy="298.9" r="1.25" fill="#D24A5C"/>
<circle cx="542.2" cy="298.9" r="1.25" fill="#D24A5C"/>
<circle cx="520.1" cy="317.2" r="1.25" fill="#D24A5C"/>
<circle cx="499.2" cy="323.8" r="1.25" fill="#D24A5C"/>
<circle cx="468.6" cy="329.5" r="1.25" fill="#D24A5C"/>
<circle cx="476.3" cy="329.5" r="1.25" fill="#D24A5C"/>
<circle cx="530.2" cy="329.5" r="1.25" fill="#D24A5C"/>
<circle cx="576.5" cy="323.8" r="1.25" fill="#D24A5C"/>
<circle cx="459.2" cy="335.2" r="1.25" fill="#D24A5C"/>
<circle cx="525.0" cy="335.2" r="1.25" fill="#D24A5C"/>
<circle cx="492.4" cy="341.8" r="1.25" fill="#D24A5C"/>
<circle cx="537.3" cy="341.8" r="1.25" fill="#D24A5C"/>
<circle cx="563.1" cy="348.1" r="1.25" fill="#D24A5C"/>
<circle cx="630.8" cy="268.5" r="1.25" fill="#D24A5C"/>
<circle cx="680.9" cy="280.0" r="1.25" fill="#D24A5C"/>
<circle cx="674.3" cy="286.6" r="1.25" fill="#D24A5C"/>
<circle cx="696.1" cy="286.6" r="1.25" fill="#D24A5C"/>
<circle cx="713.8" cy="286.6" r="1.25" fill="#D24A5C"/>
<circle cx="636.0" cy="293.1" r="1.25" fill="#D24A5C"/>
<circle cx="689.5" cy="293.1" r="1.25" fill="#D24A5C"/>
<circle cx="607.3" cy="299.4" r="1.25" fill="#D24A5C"/>
<circle cx="636.5" cy="305.2" r="1.25" fill="#D24A5C"/>
<circle cx="593.6" cy="310.9" r="1.25" fill="#D24A5C"/>
<circle cx="606.5" cy="310.9" r="1.25" fill="#D24A5C"/>
<circle cx="598.7" cy="317.2" r="1.25" fill="#D24A5C"/>
<circle cx="685.2" cy="317.2" r="1.25" fill="#D24A5C"/>
<circle cx="683.8" cy="323.8" r="1.25" fill="#D24A5C"/>
<circle cx="701.8" cy="323.8" r="1.25" fill="#D24A5C"/>
<circle cx="703.0" cy="335.2" r="1.25" fill="#D24A5C"/>
<circle cx="718.1" cy="335.2" r="1.25" fill="#D24A5C"/>
<circle cx="649.4" cy="341.8" r="1.25" fill="#D24A5C"/>
<circle cx="668.6" cy="341.8" r="1.25" fill="#D24A5C"/>
<circle cx="715.3" cy="341.8" r="1.25" fill="#D24A5C"/>
<circle cx="596.5" cy="348.1" r="1.25" fill="#D24A5C"/>
<circle cx="624.5" cy="348.1" r="1.25" fill="#D24A5C"/>
<circle cx="629.4" cy="348.1" r="1.25" fill="#D24A5C"/>
<circle cx="662.9" cy="348.1" r="1.25" fill="#D24A5C"/>
<circle cx="732.9" cy="275.1" r="1.25" fill="#D24A5C"/>
<circle cx="748.6" cy="293.1" r="1.25" fill="#D24A5C"/>
<circle cx="736.6" cy="298.9" r="1.25" fill="#D24A5C"/>
<circle cx="748.1" cy="305.2" r="1.25" fill="#D24A5C"/>
<circle cx="757.2" cy="305.2" r="1.25" fill="#D24A5C"/>
<circle cx="734.9" cy="317.2" r="1.25" fill="#D24A5C"/>
<circle cx="751.5" cy="323.8" r="1.25" fill="#D24A5C"/>
<circle cx="801.6" cy="323.8" r="1.25" fill="#D24A5C"/>
<circle cx="816.8" cy="317.2" r="1.25" fill="#D24A5C"/>
<circle cx="853.1" cy="298.9" r="1.25" fill="#D24A5C"/>
<circle cx="836.8" cy="305.2" r="1.25" fill="#D24A5C"/>
<circle cx="857.4" cy="305.2" r="1.25" fill="#D24A5C"/>
<circle cx="737.2" cy="329.5" r="1.25" fill="#D24A5C"/>
<circle cx="750.9" cy="335.2" r="1.25" fill="#D24A5C"/>
<circle cx="737.7" cy="341.8" r="1.25" fill="#D24A5C"/>
<circle cx="770.1" cy="341.8" r="1.25" fill="#D24A5C"/>
<circle cx="775.8" cy="341.8" r="1.25" fill="#D24A5C"/>
<circle cx="811.6" cy="335.2" r="1.25" fill="#D24A5C"/>
<circle cx="856.8" cy="329.5" r="1.25" fill="#D24A5C"/>
<circle cx="747.2" cy="353.3" r="1.25" fill="#D24A5C"/>
<circle cx="768.1" cy="353.3" r="1.25" fill="#D24A5C"/>
<circle cx="801.6" cy="353.3" r="1.25" fill="#D24A5C"/>
<circle cx="840.2" cy="353.3" r="1.25" fill="#D24A5C"/>
<circle cx="853.5" cy="300.1" r="1.25" fill="#D24A5C"/>
<circle cx="858.0" cy="305.4" r="1.25" fill="#D24A5C"/>
<circle cx="873.9" cy="305.4" r="1.25" fill="#D24A5C"/>
<circle cx="858.0" cy="311.5" r="1.25" fill="#D24A5C"/>
<circle cx="868.6" cy="317.3" r="1.25" fill="#D24A5C"/>
<circle cx="871.3" cy="317.3" r="1.25" fill="#D24A5C"/>
<circle cx="809.6" cy="323.9" r="1.25" fill="#D24A5C"/>
<circle cx="829.0" cy="323.9" r="1.25" fill="#D24A5C"/>
<circle cx="841.4" cy="323.9" r="1.25" fill="#D24A5C"/>
<circle cx="817.0" cy="335.8" r="1.25" fill="#D24A5C"/>
<circle cx="871.3" cy="335.8" r="1.25" fill="#D24A5C"/>
<circle cx="841.4" cy="348.5" r="1.25" fill="#D24A5C"/>
<circle cx="175.7" cy="354.0" r="1.25" fill="#D24A5C"/>
<circle cx="197.9" cy="335.8" r="1.25" fill="#D24A5C"/>
<circle cx="221.2" cy="335.8" r="1.25" fill="#D24A5C"/>
<circle cx="255.6" cy="348.2" r="1.25" fill="#D24A5C"/>
<circle cx="292.1" cy="335.8" r="1.25" fill="#D24A5C"/>
<circle cx="325.3" cy="342.1" r="1.25" fill="#D24A5C"/>
<circle cx="338.0" cy="348.2" r="1.25" fill="#D24A5C"/>
<circle cx="373.1" cy="348.2" r="1.25" fill="#D24A5C"/>
<circle cx="375.8" cy="348.2" r="1.25" fill="#D24A5C"/>
<circle cx="389.4" cy="354.0" r="1.25" fill="#D24A5C"/>
<circle cx="446.6" cy="342.1" r="1.25" fill="#D24A5C"/>
<circle cx="510.8" cy="342.1" r="1.25" fill="#D24A5C"/>
<circle cx="537.5" cy="342.1" r="1.25" fill="#D24A5C"/>
<circle cx="542.1" cy="348.2" r="1.25" fill="#D24A5C"/>
<circle cx="563.8" cy="348.2" r="1.25" fill="#D24A5C"/>
<circle cx="580.4" cy="348.2" r="1.25" fill="#D24A5C"/>
<circle cx="582.5" cy="354.0" r="1.25" fill="#D24A5C"/>
<circle cx="580.8" cy="348.2" r="1.25" fill="#D24A5C"/>
<circle cx="596.6" cy="348.2" r="1.25" fill="#D24A5C"/>
<circle cx="703.0" cy="335.8" r="1.25" fill="#D24A5C"/>
<circle cx="737.1" cy="342.1" r="1.25" fill="#D24A5C"/>
<circle cx="775.2" cy="342.1" r="1.25" fill="#D24A5C"/>
<circle cx="783.7" cy="348.2" r="1.25" fill="#D24A5C"/>
<circle cx="747.2" cy="354.0" r="1.25" fill="#D24A5C"/>
<circle cx="770.2" cy="354.0" r="1.25" fill="#D24A5C"/>
<circle cx="793.1" cy="354.0" r="1.25" fill="#D24A5C"/>
<circle cx="840.6" cy="342.1" r="1.25" fill="#D24A5C"/>
<circle cx="832.1" cy="360.5" r="1.25" fill="#D24A5C"/>
<circle cx="840.6" cy="366.4" r="1.25" fill="#D24A5C"/>
<circle cx="853.0" cy="342.0" r="1.25" fill="#D24A5C"/>
<circle cx="860.7" cy="342.0" r="1.25" fill="#D24A5C"/>
<circle cx="870.9" cy="342.0" r="1.25" fill="#D24A5C"/>
<circle cx="857.1" cy="348.2" r="1.25" fill="#D24A5C"/>
<circle cx="864.4" cy="348.2" r="1.25" fill="#D24A5C"/>
<circle cx="832.6" cy="360.4" r="1.25" fill="#D24A5C"/>
<circle cx="306.0" cy="341.8" r="1.25" fill="#3A7088"/>
<circle cx="271.0" cy="353.3" r="1.25" fill="#3A7088"/>
<circle cx="337.9" cy="329.5" r="1.25" fill="#3A7088"/>
<circle cx="428.1" cy="348.1" r="1.25" fill="#3A7088"/>
<circle cx="441.0" cy="348.1" r="1.25" fill="#3A7088"/>
<circle cx="468.6" cy="341.8" r="1.25" fill="#3A7088"/>
<circle cx="505.8" cy="341.8" r="1.25" fill="#3A7088"/>
<circle cx="510.7" cy="341.8" r="1.25" fill="#3A7088"/>
<circle cx="470.6" cy="348.1" r="1.25" fill="#3A7088"/>
<circle cx="197.9" cy="354.0" r="1.25" fill="#3A7088"/>
<circle cx="216.6" cy="360.5" r="1.25" fill="#3A7088"/>
<circle cx="230.2" cy="366.4" r="1.25" fill="#3A7088"/>
<circle cx="229.3" cy="384.6" r="1.25" fill="#3A7088"/>
<circle cx="237.8" cy="360.5" r="1.25" fill="#3A7088"/>
<circle cx="270.9" cy="354.0" r="1.25" fill="#3A7088"/>
<circle cx="298.9" cy="360.5" r="1.25" fill="#3A7088"/>
<circle cx="257.3" cy="371.5" r="1.25" fill="#3A7088"/>
<circle cx="267.5" cy="371.5" r="1.25" fill="#3A7088"/>
<circle cx="185.2" cy="378.3" r="1.25" fill="#3A7088"/>
<circle cx="116.3" cy="360.5" r="1.25" fill="#3A7088"/>
<circle cx="137.0" cy="360.5" r="1.25" fill="#3A7088"/>
<circle cx="95.1" cy="366.4" r="1.25" fill="#3A7088"/>
<circle cx="116.3" cy="366.4" r="1.25" fill="#3A7088"/>
<circle cx="72.2" cy="384.6" r="1.25" fill="#3A7088"/>
<circle cx="75.5" cy="384.6" r="1.25" fill="#3A7088"/>
<circle cx="146.0" cy="384.6" r="1.25" fill="#3A7088"/>
<circle cx="151.1" cy="384.6" r="1.25" fill="#3A7088"/>
<circle cx="158.7" cy="378.3" r="1.25" fill="#3A7088"/>
<circle cx="165.5" cy="378.3" r="1.25" fill="#3A7088"/>
<circle cx="325.3" cy="354.0" r="1.25" fill="#3A7088"/>
<circle cx="373.1" cy="354.0" r="1.25" fill="#3A7088"/>
<circle cx="397.4" cy="354.0" r="1.25" fill="#3A7088"/>
<circle cx="399.6" cy="354.0" r="1.25" fill="#3A7088"/>
<circle cx="347.0" cy="360.5" r="1.25" fill="#3A7088"/>
<circle cx="375.8" cy="360.5" r="1.25" fill="#3A7088"/>
<circle cx="352.1" cy="366.4" r="1.25" fill="#3A7088"/>
<circle cx="389.4" cy="366.4" r="1.25" fill="#3A7088"/>
<circle cx="352.1" cy="372.0" r="1.25" fill="#3A7088"/>
<circle cx="373.6" cy="372.0" r="1.25" fill="#3A7088"/>
<circle cx="398.2" cy="372.0" r="1.25" fill="#3A7088"/>
<circle cx="424.0" cy="366.4" r="1.25" fill="#3A7088"/>
<circle cx="428.8" cy="348.2" r="1.25" fill="#3A7088"/>
<circle cx="439.0" cy="354.0" r="1.25" fill="#3A7088"/>
<circle cx="445.8" cy="354.0" r="1.25" fill="#3A7088"/>
<circle cx="314.8" cy="378.3" r="1.25" fill="#3A7088"/>
<circle cx="332.9" cy="378.3" r="1.25" fill="#3A7088"/>
<circle cx="437.3" cy="378.3" r="1.25" fill="#3A7088"/>
<circle cx="439.0" cy="384.6" r="1.25" fill="#3A7088"/>
<circle cx="470.5" cy="348.2" r="1.25" fill="#3A7088"/>
<circle cx="510.3" cy="348.2" r="1.25" fill="#3A7088"/>
<circle cx="458.9" cy="354.0" r="1.25" fill="#3A7088"/>
<circle cx="526.1" cy="354.0" r="1.25" fill="#3A7088"/>
<circle cx="538.0" cy="354.0" r="1.25" fill="#3A7088"/>
<circle cx="541.7" cy="354.0" r="1.25" fill="#3A7088"/>
<circle cx="557.8" cy="354.0" r="1.25" fill="#3A7088"/>
<circle cx="489.5" cy="360.5" r="1.25" fill="#3A7088"/>
<circle cx="500.2" cy="360.5" r="1.25" fill="#3A7088"/>
<circle cx="502.7" cy="360.5" r="1.25" fill="#3A7088"/>
<circle cx="577.0" cy="360.5" r="1.25" fill="#3A7088"/>
<circle cx="580.4" cy="360.5" r="1.25" fill="#3A7088"/>
<circle cx="446.4" cy="366.4" r="1.25" fill="#3A7088"/>
<circle cx="475.9" cy="366.4" r="1.25" fill="#3A7088"/>
<circle cx="519.7" cy="366.4" r="1.25" fill="#3A7088"/>
<circle cx="471.3" cy="372.0" r="1.25" fill="#3A7088"/>
<circle cx="542.1" cy="372.0" r="1.25" fill="#3A7088"/>
<circle cx="552.2" cy="372.0" r="1.25" fill="#3A7088"/>
<circle cx="475.9" cy="402.9" r="1.25" fill="#3A7088"/>
<circle cx="580.8" cy="360.5" r="1.25" fill="#3A7088"/>
<circle cx="593.9" cy="360.5" r="1.25" fill="#3A7088"/>
<circle cx="629.2" cy="360.5" r="1.25" fill="#3A7088"/>
<circle cx="649.6" cy="366.4" r="1.25" fill="#3A7088"/>
<circle cx="674.2" cy="366.4" r="1.25" fill="#3A7088"/>
<circle cx="633.5" cy="372.0" r="1.25" fill="#3A7088"/>
<circle cx="636.0" cy="372.0" r="1.25" fill="#3A7088"/>
<circle cx="717.1" cy="372.0" r="1.25" fill="#3A7088"/>
<circle cx="719.5" cy="372.0" r="1.25" fill="#3A7088"/>
<circle cx="596.6" cy="378.3" r="1.25" fill="#3A7088"/>
<circle cx="606.3" cy="384.6" r="1.25" fill="#3A7088"/>
<circle cx="680.1" cy="384.6" r="1.25" fill="#3A7088"/>
<circle cx="682.7" cy="384.6" r="1.25" fill="#3A7088"/>
<circle cx="718.4" cy="360.5" r="1.25" fill="#3A7088"/>
<circle cx="736.7" cy="360.5" r="1.25" fill="#3A7088"/>
<circle cx="750.3" cy="360.5" r="1.25" fill="#3A7088"/>
<circle cx="769.3" cy="360.5" r="1.25" fill="#3A7088"/>
<circle cx="775.2" cy="360.5" r="1.25" fill="#3A7088"/>
<circle cx="783.7" cy="360.5" r="1.25" fill="#3A7088"/>
<circle cx="810.0" cy="360.5" r="1.25" fill="#3A7088"/>
<circle cx="836.3" cy="360.5" r="1.25" fill="#3A7088"/>
<circle cx="750.6" cy="366.4" r="1.25" fill="#3A7088"/>
<circle cx="717.5" cy="372.0" r="1.25" fill="#3A7088"/>
<circle cx="810.0" cy="372.0" r="1.25" fill="#3A7088"/>
<circle cx="820.2" cy="372.0" r="1.25" fill="#3A7088"/>
<circle cx="840.6" cy="372.0" r="1.25" fill="#3A7088"/>
<circle cx="736.7" cy="378.3" r="1.25" fill="#3A7088"/>
<circle cx="802.4" cy="378.3" r="1.25" fill="#3A7088"/>
<circle cx="820.2" cy="378.3" r="1.25" fill="#3A7088"/>
<circle cx="836.3" cy="378.3" r="1.25" fill="#3A7088"/>
<circle cx="715.8" cy="384.6" r="1.25" fill="#3A7088"/>
<circle cx="810.0" cy="390.7" r="1.25" fill="#3A7088"/>
<circle cx="819.9" cy="354.3" r="1.25" fill="#3A7088"/>
<circle cx="864.9" cy="354.3" r="1.25" fill="#3A7088"/>
<circle cx="853.8" cy="360.4" r="1.25" fill="#3A7088"/>
<circle cx="857.1" cy="360.4" r="1.25" fill="#3A7088"/>
<circle cx="868.5" cy="360.4" r="1.25" fill="#3A7088"/>
<circle cx="871.7" cy="360.4" r="1.25" fill="#3A7088"/>
<circle cx="801.6" cy="371.8" r="1.25" fill="#3A7088"/>
<circle cx="829.0" cy="371.8" r="1.25" fill="#3A7088"/>
<circle cx="853.8" cy="371.8" r="1.25" fill="#3A7088"/>
<circle cx="860.7" cy="371.8" r="1.25" fill="#3A7088"/>
<circle cx="864.9" cy="371.8" r="1.25" fill="#3A7088"/>
<circle cx="870.9" cy="371.8" r="1.25" fill="#3A7088"/>
<circle cx="800.8" cy="378.3" r="1.25" fill="#3A7088"/>
<circle cx="836.7" cy="378.3" r="1.25" fill="#3A7088"/>
<circle cx="853.8" cy="378.3" r="1.25" fill="#3A7088"/>
<circle cx="853.0" cy="384.4" r="1.25" fill="#3A7088"/>
<circle cx="197.9" cy="360.5" r="1.25" fill="#8CC463"/>
<circle cx="220.8" cy="360.5" r="1.25" fill="#8CC463"/>
<circle cx="216.6" cy="366.4" r="1.25" fill="#8CC463"/>
<circle cx="255.6" cy="366.4" r="1.25" fill="#8CC463"/>
<circle cx="268.0" cy="366.4" r="1.25" fill="#8CC463"/>
<circle cx="272.1" cy="366.4" r="1.25" fill="#8CC463"/>
<circle cx="287.0" cy="366.4" r="1.25" fill="#8CC463"/>
<circle cx="237.4" cy="390.2" r="1.25" fill="#8CC463"/>
<circle cx="247.6" cy="384.6" r="1.25" fill="#8CC463"/>
<circle cx="257.3" cy="384.6" r="1.25" fill="#8CC463"/>
<circle cx="270.9" cy="378.3" r="1.25" fill="#8CC463"/>
<circle cx="296.3" cy="378.3" r="1.25" fill="#8CC463"/>
<circle cx="181.8" cy="396.4" r="1.25" fill="#8CC463"/>
<circle cx="137.0" cy="354.0" r="1.25" fill="#8CC463"/>
<circle cx="78.1" cy="360.5" r="1.25" fill="#8CC463"/>
<circle cx="145.1" cy="369.8" r="1.25" fill="#8CC463"/>
<circle cx="165.8" cy="390.7" r="1.25" fill="#8CC463"/>
<circle cx="338.0" cy="366.4" r="1.25" fill="#8CC463"/>
<circle cx="325.3" cy="372.0" r="1.25" fill="#8CC463"/>
<circle cx="389.4" cy="372.0" r="1.25" fill="#8CC463"/>
<circle cx="320.5" cy="384.6" r="1.25" fill="#8CC463"/>
<circle cx="373.6" cy="384.6" r="1.25" fill="#8CC463"/>
<circle cx="424.5" cy="384.6" r="1.25" fill="#8CC463"/>
<circle cx="314.8" cy="408.8" r="1.25" fill="#8CC463"/>
<circle cx="455.2" cy="372.0" r="1.25" fill="#8CC463"/>
<circle cx="457.2" cy="372.0" r="1.25" fill="#8CC463"/>
<circle cx="492.2" cy="372.0" r="1.25" fill="#8CC463"/>
<circle cx="510.8" cy="366.4" r="1.25" fill="#8CC463"/>
<circle cx="526.1" cy="366.4" r="1.25" fill="#8CC463"/>
<circle cx="519.7" cy="372.0" r="1.25" fill="#8CC463"/>
<circle cx="458.9" cy="384.6" r="1.25" fill="#8CC463"/>
<circle cx="471.3" cy="384.6" r="1.25" fill="#8CC463"/>
<circle cx="489.5" cy="384.6" r="1.25" fill="#8CC463"/>
<circle cx="500.2" cy="384.6" r="1.25" fill="#8CC463"/>
<circle cx="502.7" cy="384.6" r="1.25" fill="#8CC463"/>
<circle cx="526.1" cy="384.6" r="1.25" fill="#8CC463"/>
<circle cx="530.7" cy="384.6" r="1.25" fill="#8CC463"/>
<circle cx="538.0" cy="384.6" r="1.25" fill="#8CC463"/>
<circle cx="540.9" cy="384.6" r="1.25" fill="#8CC463"/>
<circle cx="563.8" cy="384.6" r="1.25" fill="#8CC463"/>
<circle cx="579.1" cy="378.3" r="1.25" fill="#8CC463"/>
<circle cx="457.2" cy="402.9" r="1.25" fill="#8CC463"/>
<circle cx="580.8" cy="378.3" r="1.25" fill="#8CC463"/>
<circle cx="629.2" cy="378.3" r="1.25" fill="#8CC463"/>
<circle cx="633.5" cy="384.6" r="1.25" fill="#8CC463"/>
<circle cx="649.6" cy="384.6" r="1.25" fill="#8CC463"/>
<circle cx="663.1" cy="384.6" r="1.25" fill="#8CC463"/>
<circle cx="668.6" cy="384.6" r="1.25" fill="#8CC463"/>
<circle cx="682.7" cy="378.3" r="1.25" fill="#8CC463"/>
<circle cx="698.8" cy="378.3" r="1.25" fill="#8CC463"/>
<circle cx="783.7" cy="354.0" r="1.25" fill="#8CC463"/>
<circle cx="770.2" cy="366.4" r="1.25" fill="#8CC463"/>
<circle cx="775.2" cy="366.4" r="1.25" fill="#8CC463"/>
<circle cx="854.1" cy="372.0" r="1.25" fill="#8CC463"/>
<circle cx="757.4" cy="378.3" r="1.25" fill="#8CC463"/>
<circle cx="783.7" cy="385.1" r="1.25" fill="#8CC463"/>
<circle cx="787.1" cy="385.1" r="1.25" fill="#8CC463"/>
<circle cx="836.3" cy="385.1" r="1.25" fill="#8CC463"/>
<circle cx="840.6" cy="385.1" r="1.25" fill="#8CC463"/>
<circle cx="840.2" cy="360.5" r="1.25" fill="#8CC463"/>
<circle cx="841.1" cy="360.4" r="1.25" fill="#8CC463"/>
<circle cx="864.4" cy="360.4" r="1.25" fill="#8CC463"/>
<circle cx="816.3" cy="371.8" r="1.25" fill="#8CC463"/>
<circle cx="821.2" cy="378.3" r="1.25" fill="#8CC463"/>
<circle cx="857.4" cy="378.3" r="1.25" fill="#8CC463"/>
<circle cx="864.9" cy="378.3" r="1.25" fill="#8CC463"/>
<circle cx="868.5" cy="378.3" r="1.25" fill="#8CC463"/>
<circle cx="836.2" cy="384.4" r="1.25" fill="#8CC463"/>
<circle cx="841.1" cy="384.4" r="1.25" fill="#8CC463"/>
<circle cx="212.0" cy="390.7" r="1.25" fill="#45A858"/>
<circle cx="270.9" cy="402.9" r="1.25" fill="#45A858"/>
<circle cx="292.1" cy="402.9" r="1.25" fill="#45A858"/>
<circle cx="114.6" cy="384.6" r="1.25" fill="#45A858"/>
<circle cx="424.0" cy="402.9" r="1.25" fill="#45A858"/>
<circle cx="428.8" cy="402.9" r="1.25" fill="#45A858"/>
<circle cx="492.2" cy="402.9" r="1.25" fill="#45A858"/>
<circle cx="496.8" cy="402.9" r="1.25" fill="#45A858"/>
<circle cx="503.5" cy="402.9" r="1.25" fill="#45A858"/>
<circle cx="508.6" cy="402.9" r="1.25" fill="#45A858"/>
<circle cx="820.2" cy="354.0" r="1.25" fill="#45A858"/>
<circle cx="72.2" cy="347.5" r="1.25" fill="#F2D24A"/>
<circle cx="175.8" cy="384.6" r="1.25" fill="#F2D24A"/>
<circle cx="198.8" cy="384.6" r="1.25" fill="#F2D24A"/>
<circle cx="218.3" cy="384.6" r="1.25" fill="#F2D24A"/>
<circle cx="193.3" cy="402.9" r="1.25" fill="#F2D24A"/>
<circle cx="255.6" cy="390.2" r="1.25" fill="#F2D24A"/>
<circle cx="272.1" cy="390.2" r="1.25" fill="#F2D24A"/>
<circle cx="287.0" cy="390.2" r="1.25" fill="#F2D24A"/>
<circle cx="297.2" cy="402.9" r="1.25" fill="#F2D24A"/>
<circle cx="305.7" cy="402.9" r="1.25" fill="#F2D24A"/>
<circle cx="236.9" cy="408.8" r="1.25" fill="#F2D24A"/>
<circle cx="75.5" cy="390.7" r="1.25" fill="#F2D24A"/>
<circle cx="114.2" cy="390.7" r="1.25" fill="#F2D24A"/>
<circle cx="126.1" cy="390.7" r="1.25" fill="#F2D24A"/>
<circle cx="146.0" cy="390.7" r="1.25" fill="#F2D24A"/>
<circle cx="151.1" cy="390.7" r="1.25" fill="#F2D24A"/>
<circle cx="158.7" cy="390.7" r="1.25" fill="#F2D24A"/>
<circle cx="165.8" cy="396.4" r="1.25" fill="#F2D24A"/>
<circle cx="181.6" cy="396.4" r="1.25" fill="#F2D24A"/>
<circle cx="325.3" cy="384.6" r="1.25" fill="#F2D24A"/>
<circle cx="352.1" cy="390.7" r="1.25" fill="#F2D24A"/>
<circle cx="373.6" cy="396.4" r="1.25" fill="#F2D24A"/>
<circle cx="424.5" cy="390.7" r="1.25" fill="#F2D24A"/>
<circle cx="446.6" cy="390.7" r="1.25" fill="#F2D24A"/>
<circle cx="332.9" cy="396.4" r="1.25" fill="#F2D24A"/>
<circle cx="446.4" cy="390.7" r="1.25" fill="#F2D24A"/>
<circle cx="454.3" cy="390.7" r="1.25" fill="#F2D24A"/>
<circle cx="470.5" cy="390.7" r="1.25" fill="#F2D24A"/>
<circle cx="475.9" cy="390.7" r="1.25" fill="#F2D24A"/>
<circle cx="500.2" cy="390.7" r="1.25" fill="#F2D24A"/>
<circle cx="505.8" cy="390.7" r="1.25" fill="#F2D24A"/>
<circle cx="535.8" cy="390.7" r="1.25" fill="#F2D24A"/>
<circle cx="538.0" cy="390.7" r="1.25" fill="#F2D24A"/>
<circle cx="557.8" cy="390.7" r="1.25" fill="#F2D24A"/>
<circle cx="560.0" cy="390.7" r="1.25" fill="#F2D24A"/>
<circle cx="577.0" cy="390.7" r="1.25" fill="#F2D24A"/>
<circle cx="581.6" cy="390.7" r="1.25" fill="#F2D24A"/>
<circle cx="476.4" cy="396.4" r="1.25" fill="#F2D24A"/>
<circle cx="586.4" cy="390.7" r="1.25" fill="#F2D24A"/>
<circle cx="595.3" cy="390.7" r="1.25" fill="#F2D24A"/>
<circle cx="607.2" cy="390.7" r="1.25" fill="#F2D24A"/>
<circle cx="629.2" cy="390.7" r="1.25" fill="#F2D24A"/>
<circle cx="649.6" cy="390.7" r="1.25" fill="#F2D24A"/>
<circle cx="810.0" cy="396.4" r="1.25" fill="#F2D24A"/>
<circle cx="736.7" cy="396.4" r="1.25" fill="#F2D24A"/>
<circle cx="750.3" cy="396.4" r="1.25" fill="#F2D24A"/>
<circle cx="663.1" cy="390.7" r="1.25" fill="#9C84D4"/>
<circle cx="682.7" cy="390.7" r="1.25" fill="#9C84D4"/>
<circle cx="696.2" cy="390.7" r="1.25" fill="#9C84D4"/>
<circle cx="700.8" cy="390.7" r="1.25" fill="#9C84D4"/>
<circle cx="680.1" cy="396.4" r="1.25" fill="#9C84D4"/>
<circle cx="683.2" cy="396.4" r="1.25" fill="#9C84D4"/>
<circle cx="628.4" cy="396.4" r="1.25" fill="#9C84D4"/>
<circle cx="817.7" cy="360.5" r="1.25" fill="#9C84D4"/>
<circle cx="817.7" cy="390.7" r="1.25" fill="#9C84D4"/>
<circle cx="820.2" cy="390.7" r="1.25" fill="#9C84D4"/>
<circle cx="832.1" cy="390.7" r="1.25" fill="#9C84D4"/>
<circle cx="836.3" cy="390.7" r="1.25" fill="#9C84D4"/>
<circle cx="840.2" cy="390.7" r="1.25" fill="#9C84D4"/>
<circle cx="770.2" cy="390.7" r="1.25" fill="#9C84D4"/>
<circle cx="819.9" cy="360.4" r="1.25" fill="#9C84D4"/>
<circle cx="864.4" cy="384.4" r="1.25" fill="#9C84D4"/>
<circle cx="832.6" cy="390.9" r="1.25" fill="#9C84D4"/>
<circle cx="839.1" cy="390.9" r="1.25" fill="#9C84D4"/>
<circle cx="857.4" cy="390.9" r="1.25" fill="#9C84D4"/>
<circle cx="867.2" cy="390.9" r="1.25" fill="#9C84D4"/>
<circle cx="871.7" cy="390.9" r="1.25" fill="#9C84D4"/>
<path d="M211.6,402.7 L218.9,403.9 L230.3,407.6 L235.2,405.2 L243.3,404.4 L247.4,401.6 L258.0,405.2 L267.8,407.6 L287.3,407.6 L293.9,406.0 L300.4,405.2 L316.3,405.2 L327.7,402.7 L342.4,404.9 L371.7,405.2 L389.6,402.7 L397.8,406.8 L414.1,406.0 L440.0,406.8 L459.3,406.0 L470.7,406.8 L491.9,405.2 L514.7,407.1 L524.5,406.0 L544.1,407.6 L570.0,405.2 L600.0,407.0 L640.0,406.0 L690.0,407.0 L740.0,406.0 L800.0,407.0 L878.0,406.5" fill="none" stroke="#30A040" stroke-width="2.6" stroke-linejoin="round" stroke-linecap="round"/>
<path d="M526.6,406.7 L545.0,404.0 L563.5,400.4 L575.0,402.0 L586.0,404.8 L609.0,406.0 L622.0,404.0 L640.0,406.0 L672.8,402.7 L694.6,404.4 L716.4,403.8 L749.2,405.5 L760.0,405.0 L776.4,406.0 L809.1,407.1 L831.0,404.4 L847.3,406.5 L878.6,408.2" fill="none" stroke="#4BB8E0" stroke-width="2.6" stroke-linejoin="round" stroke-linecap="round"/>
<path d="M525.0,395.3 L525.5,406.7 L527.8,404.2 L545.0,404.0 L560.0,402.0 L575.0,399.7 L586.4,404.8 L607.0,404.0 L625.2,401.9 L640.0,402.2 L667.3,400.0 L689.1,403.8 L715.3,398.9 L732.8,402.2 L760.0,401.1 L774.2,399.5 L787.3,399.5 L798.2,401.7 L809.1,404.4 L831.0,402.2 L847.3,403.8 L878.6,403.6" fill="none" stroke="#7A7A7A" stroke-width="2.6" stroke-linejoin="round" stroke-linecap="round"/>
<path d="M623.6,396.2 L631.7,397.9 L640.0,398.4 L649.8,401.1 L661.8,399.5 L671.7,398.9 L685.9,401.1 L699.0,397.3 L715.3,392.4 L732.8,395.1 L736.1,390.2 L747.0,390.7 L760.0,394.0 L769.8,392.4 L774.2,395.1 L776.4,392.4 L782.9,390.7 L787.3,393.5 L792.8,392.9 L808.0,401.7 L810.2,397.3 L816.8,395.6 L836.4,396.2 L843.0,398.9 L852.8,400.0 L858.3,396.7 L869.2,396.2 L877.5,396.5" fill="none" stroke="#8A6CC6" stroke-width="3" stroke-linejoin="round" stroke-linecap="round"/>
<path d="M66.9,384.8 L71.8,366.1 L75.0,378.3 L82.4,379.9 L93.0,384.8 L96.2,379.1 L111.7,371.8 L115.0,378.3 L123.1,379.9 L131.3,384.8 L141.0,387.3 L150.8,384.0 L162.2,385.6 L170.4,387.3 L181.4,391.8 L194.4,396.2 L200.2,391.8 L212.4,390.8 L228.7,391.8 L245.0,397.9 L254.7,396.2 L261.3,395.4 L284.1,394.6 L292.2,391.8 L300.4,395.4 L309.8,397.0 L320.4,401.1 L332.6,393.5 L342.4,395.4 L352.2,396.7 L371.7,401.9 L384.7,398.7 L396.2,396.7 L397.8,401.1 L404.3,400.0 L425.5,395.4 L430.4,397.9 L441.4,398.3 L447.9,395.4 L469.1,393.0 L488.7,393.0 L505.0,396.2 L524.5,399.0 L537.6,395.4 L547.3,397.9 L560.4,395.4 L569.8,397.4 L579.6,398.3 L592.6,395.4 L605.6,393.0 L612.2,396.2 L621.9,401.1 L631.7,402.7 L644.7,400.6 L649.8,397.3 L667.3,395.1 L670.4,398.4 L685.9,402.7 L716.4,396.2 L732.8,401.1 L749.2,397.3 L760.0,398.4 L770.9,398.4 L774.0,401.0 L787.3,401.7 L809.1,401.1 L836.4,398.4 L842.0,400.0 L852.8,402.7 L869.2,403.3 L878.6,404.4" fill="none" stroke="#F7CB1E" stroke-width="3" stroke-linejoin="round" stroke-linecap="round"/>
<path d="M53.4,376.2 L66.9,380.7 L78.3,373.9 L90.5,376.7 L94.6,379.1 L111.7,379.1 L128.0,379.1 L137.8,371.8 L144.3,370.1 L152.5,379.1 L159.0,384.0 L167.1,384.8 L173.6,377.5 L178.1,375.0 L186.3,373.4 L193.6,379.1 L199.3,373.4 L212.4,368.5 L218.9,372.6 L228.7,373.4 L238.4,375.9 L247.4,379.9 L256.4,376.7 L267.8,372.6 L274.3,371.0 L285.7,370.1 L297.1,373.4 L306.5,375.0 L313.0,375.5 L320.4,379.1 L328.5,377.8 L339.1,375.0 L346.4,374.6 L352.2,377.8 L371.7,378.8 L397.8,378.8 L398.6,382.0 L404.3,381.1 L423.9,378.8 L428.7,383.2 L439.8,382.4 L447.9,379.9 L458.5,377.5 L470.7,380.7 L475.6,382.7 L491.9,378.3 L507.4,378.8 L524.5,371.8 L534.3,378.3 L557.1,374.2 L563.6,381.6 L573.0,382.0 L577.9,383.2 L586.1,385.3 L597.5,384.0 L608.9,382.0 L625.2,382.0 L641.5,380.7 L651.3,378.3 L664.3,378.3 L672.4,380.7 L687.1,382.0 L696.5,379.1 L714.4,379.9 L718.5,381.6 L734.0,383.7 L747.0,383.7 L755.2,381.6 L768.2,384.0 L770.7,374.2 L787.8,370.1 L802.4,374.2 L809.8,370.1 L816.3,368.5 L829.3,367.4 L853.8,365.3 L862.0,361.2 L868.5,362.8 L878.6,364.1" fill="none" stroke="#7CBB44" stroke-width="3" stroke-linejoin="round" stroke-linecap="round"/>
<path d="M66.9,396.7 L75.9,387.3 L84.0,381.6 L88.9,379.1 L93.8,371.8 L112.5,366.1 L115.0,374.2 L126.4,374.2 L137.0,369.3 L150.8,375.0 L152.5,368.5 L159.0,371.0 L165.5,370.1 L176.2,360.4 L180.6,370.6 L183.0,371.8 L190.4,372.3 L193.6,383.7 L199.3,375.0 L205.9,376.7 L216.4,378.8 L218.9,371.0 L227.0,370.1 L235.2,370.1 L245.0,371.8 L248.2,363.6 L256.4,359.6 L258.8,361.2 L264.5,357.1 L267.8,360.4 L274.3,355.5 L286.5,349.5 L293.9,352.2 L300.4,355.5 L306.5,353.9 L314.7,359.9 L320.4,360.4 L326.1,364.1 L333.4,364.1 L338.3,355.5 L350.5,357.1 L369.3,371.8 L373.3,363.6 L376.6,364.8 L388.8,362.8 L396.2,360.4 L400.2,363.6 L422.2,378.3 L428.7,366.1 L435.3,367.7 L438.1,368.5 L441.4,364.4 L447.9,362.5 L456.9,359.2 L465.0,366.4 L469.9,359.9 L475.6,362.0 L488.7,363.6 L492.7,366.9 L501.7,365.7 L508.2,362.8 L511.5,360.4 L521.3,361.5 L527.8,360.4 L534.3,364.8 L542.5,359.6 L545.7,361.2 L555.5,361.2 L562.0,366.1 L566.5,368.5 L575.5,371.8 L580.4,366.4 L582.8,369.3 L593.4,365.7 L604.0,374.2 L607.3,371.8 L612.2,377.8 L623.6,377.2 L629.3,366.4 L636.6,369.0 L648.0,372.6 L651.3,373.9 L664.3,374.2 L666.7,376.2 L669.2,371.0 L677.3,371.3 L687.1,374.6 L694.9,373.4 L701.4,369.3 L714.4,383.7 L718.5,376.7 L733.2,370.1 L737.3,375.0 L748.7,378.3 L751.1,374.2 L768.2,374.2 L774.7,371.0 L784.5,366.1 L792.7,364.4 L802.4,367.4 L819.6,366.9 L828.5,366.1 L839.1,369.3 L848.9,367.7 L853.8,366.9 L857.1,364.8 L863.6,366.1 L871.7,365.8 L878.6,367.7" fill="none" stroke="#0C5E9C" stroke-width="3" stroke-linejoin="round" stroke-linecap="round"/>
<path d="M67.1,324.2 L77.6,316.1 L87.8,321.7 L95.5,329.4 L112.4,347.9 L115.5,327.9 L138.0,320.2 L143.2,323.2 L147.2,318.0 L152.5,320.2 L158.6,318.0 L175.6,333.4 L191.0,312.4 L194.1,300.7 L197.8,305.7 L209.5,310.9 L218.1,300.7 L221.2,307.8 L231.1,305.7 L236.2,310.9 L245.4,306.3 L256.2,311.8 L267.0,318.6 L270.1,314.9 L290.1,327.9 L293.2,335.6 L296.3,330.3 L300.9,329.4 L306.4,328.5 L320.9,303.8 L330.2,307.8 L337.9,319.2 L345.6,318.0 L352.6,320.2 L368.7,299.5 L374.2,323.2 L396.4,347.9 L421.1,303.8 L424.8,318.0 L433.9,315.5 L439.1,312.4 L442.2,317.1 L446.2,314.9 L453.9,315.5 L464.7,302.6 L475.5,307.8 L489.3,309.4 L491.5,301.7 L498.6,311.8 L509.4,309.4 L518.6,303.8 L527.2,311.8 L535.6,307.8 L541.7,320.2 L544.8,318.0 L552.5,319.2 L558.0,316.1 L564.8,324.8 L574.1,320.2 L581.8,321.1 L588.0,324.2 L596.3,328.5 L604.9,321.7 L612.6,311.8 L620.0,314.9 L622.9,314.0 L629.1,328.5 L631.0,316.1 L634.0,319.2 L642.4,304.7 L663.9,333.4 L680.9,299.5 L686.4,297.7 L695.7,298.6 L703.1,310.9 L716.3,319.2 L733.3,301.7 L737.9,316.1 L747.1,318.0 L752.4,322.3 L759.5,314.0 L767.8,303.2 L770.9,320.2 L776.4,326.3 L780.0,329.2 L792.7,346.4 L806.5,334.5 L809.6,341.1 L817.0,340.6 L819.7,342.4 L835.6,340.6 L838.7,334.5 L842.2,337.9 L856.7,338.5 L858.0,330.5 L869.9,329.2 L873.9,331.9 L879.2,327.9" fill="none" stroke="#C81C24" stroke-width="3" stroke-linejoin="round" stroke-linecap="round"/>
<path d="M53.2,285.3 L59.1,290.3 L68.4,295.5 L72.4,310.9 L76.4,310.0 L92.4,307.8 L95.5,301.7 L112.4,293.3 L114.0,304.7 L115.5,296.4 L126.3,295.5 L138.0,271.8 L144.8,277.0 L147.9,291.5 L150.3,289.3 L158.6,300.7 L166.3,297.0 L175.6,277.0 L181.8,277.0 L184.8,270.8 L191.0,264.7 L195.6,266.8 L212.6,266.2 L218.1,267.8 L219.4,264.7 L228.0,263.1 L230.4,265.6 L236.8,256.4 L244.8,255.4 L247.0,241.0 L257.7,252.4 L267.0,253.9 L269.4,251.4 L271.6,252.4 L288.6,252.4 L291.6,259.4 L297.8,248.4 L305.5,247.1 L313.2,250.2 L320.9,260.7 L327.1,260.1 L346.5,254.5 L368.7,263.1 L373.3,268.7 L376.4,266.2 L390.2,269.9 L398.0,280.1 L422.6,303.8 L424.8,286.3 L429.2,284.7 L439.1,287.2 L444.7,285.3 L447.1,281.0 L449.3,283.2 L456.4,284.1 L464.7,292.4 L469.3,294.0 L490.3,277.0 L492.4,279.2 L496.4,269.3 L500.7,277.0 L504.7,279.2 L510.9,283.2 L519.2,285.3 L524.8,280.1 L529.4,284.1 L537.1,285.3 L543.9,278.6 L552.5,277.0 L560.2,290.3 L576.5,297.0 L580.2,290.3 L583.3,293.3 L586.4,289.3 L595.7,286.3 L598.7,280.1 L605.5,274.9 L612.6,283.2 L620.0,284.7 L623.9,285.3 L629.1,298.6 L634.0,295.5 L642.4,302.6 L647.0,297.0 L650.7,290.3 L652.5,295.5 L663.9,288.4 L667.0,300.7 L674.7,300.7 L680.3,306.9 L686.4,296.4 L696.3,297.7 L702.5,295.5 L710.2,292.4 L717.2,287.8 L719.4,292.4 L733.3,294.6 L737.9,290.3 L748.1,290.3 L751.1,287.2 L754.8,292.4 L767.2,297.7 L772.7,300.7 L778.9,293.3 L785.5,292.3 L791.9,299.3 L801.7,311.5 L809.1,311.5 L811.2,306.7 L815.7,303.5 L819.7,310.7 L827.1,312.5 L836.1,306.7 L852.8,316.0 L854.6,309.4 L863.3,308.8 L868.6,308.0 L871.3,314.1 L873.9,308.0 L875.8,309.4 L879.2,302.8" fill="none" stroke="#0A0A0A" stroke-width="3" stroke-linejoin="round" stroke-linecap="round"/>
<path d="M53.2,135.4 L67.7,100.8 L71.7,98.7 L76.4,84.5 L78.5,93.8 L92.4,87.6 L94.5,65.4 L95.5,86.4 L113.3,97.8 L114.6,79.3 L115.8,96.8 L124.7,99.3 L137.0,132.6 L146.3,101.8 L151.0,97.8 L153.4,102.4 L158.6,90.0 L164.8,93.1 L175.6,119.3 L181.1,117.2 L184.8,139.4 L190.4,149.2 L194.1,141.8 L200.2,150.2 L215.7,149.2 L221.8,154.2 L228.0,155.4 L232.6,150.5 L240.0,148.6 L244.8,146.1 L247.9,165.6 L256.2,161.6 L266.4,161.6 L271.6,171.7 L287.0,179.4 L291.6,156.3 L296.3,162.5 L313.2,157.9 L319.4,160.3 L336.3,161.6 L347.1,158.5 L352.6,147.1 L371.8,133.8 L374.2,122.4 L390.2,117.2 L396.4,107.9 L400.1,110.1 L422.6,110.1 L423.5,125.5 L424.8,111.6 L439.1,111.6 L441.0,116.3 L444.7,116.3 L446.2,126.4 L458.5,134.7 L468.7,125.5 L470.8,130.7 L477.0,132.6 L492.4,148.6 L499.5,148.6 L500.7,135.7 L503.8,139.4 L507.8,138.8 L512.4,144.0 L520.2,149.2 L526.3,145.5 L530.9,133.2 L538.6,128.6 L541.7,131.7 L544.8,127.0 L554.0,130.7 L558.0,127.0 L563.3,112.6 L574.0,107.9 L577.2,108.6 L580.9,99.9 L583.3,103.0 L586.4,101.8 L597.2,111.6 L599.4,117.8 L607.4,130.7 L612.6,120.9 L620.0,117.2 L623.9,113.2 L629.1,107.0 L631.6,116.3 L635.3,113.2 L648.5,105.5 L651.6,110.1 L663.9,112.2 L667.0,105.5 L669.2,113.2 L674.7,116.3 L680.9,113.2 L684.6,117.2 L690.7,118.4 L701.8,132.6 L714.8,110.1 L717.9,117.2 L732.6,130.7 L734.8,124.0 L737.0,125.5 L741.0,120.9 L748.7,116.3 L751.8,119.3 L757.9,118.4 L768.7,122.4 L771.8,117.2 L774.9,117.2 L776.4,122.4 L784.1,124.6 L787.9,112.6 L793.2,92.8 L801.7,75.5 L808.6,86.1 L815.7,88.8 L818.4,92.8 L821.0,87.5 L831.6,96.7 L835.6,94.1 L837.7,98.0 L839.5,94.1 L841.4,99.4 L842.2,89.3 L851.4,87.5 L853.5,92.0 L856.2,92.0 L858.0,103.3 L863.3,102.5 L866.0,99.4 L867.8,102.0 L872.1,96.7 L873.9,102.5 L877.9,110.0" fill="none" stroke="#F07020" stroke-width="3" stroke-linejoin="round" stroke-linecap="round"/>
<circle cx="53.2" cy="135.4" r="3.8" fill="#F07020" stroke="#333" stroke-width="1"/>
<circle cx="53.2" cy="285.3" r="3.8" fill="#111111" stroke="#333" stroke-width="1"/>
<circle cx="53.4" cy="376.2" r="3.8" fill="#7DBB45" stroke="#333" stroke-width="1"/>
<circle cx="878.1" cy="110" r="3.8" fill="#F07020" stroke="#333" stroke-width="1"/>
<circle cx="878.1" cy="291.6" r="3.8" fill="#111111" stroke="#333" stroke-width="1"/>
<circle cx="878.1" cy="336.7" r="3.8" fill="#CC2229" stroke="#333" stroke-width="1"/>
<circle cx="878.1" cy="364.3" r="3.8" fill="#7DBB45" stroke="#333" stroke-width="1"/>
<circle cx="878.1" cy="375.4" r="3.8" fill="#1065A8" stroke="#333" stroke-width="1"/>
<circle cx="878.1" cy="389" r="3.8" fill="#8870C8" stroke="#333" stroke-width="1"/>
<circle cx="878.1" cy="397.6" r="3.8" fill="#808080" stroke="#333" stroke-width="1"/>
<circle cx="878.1" cy="404.9" r="3.8" fill="#F5C400" stroke="#333" stroke-width="1"/>
<rect x="963" y="35.1" width="116.3" height="29.6" fill="url(#gF)"/>
<text x="951.6" y="54.2" text-anchor="end" class="bl" textLength="29.9" lengthAdjust="spacingAndGlyphs">Fidesz</text>
<text x="969.8" y="53.9" class="bv" fill="#222" stroke="#222">49,3</text>
<rect x="963" y="72.2" width="32.1" height="29.6" fill="url(#gM)"/>
<text x="951.6" y="91.3" text-anchor="end" class="bl" textLength="26.4" lengthAdjust="spacingAndGlyphs">MSZP</text>
<text x="969.8" y="91.0" class="bv" fill="#222" stroke="#222">13,6</text>
<rect x="963" y="109.3" width="41.5" height="29.6" fill="url(#gJ)"/>
<text x="951.6" y="128.4" text-anchor="end" class="bl" textLength="30.4" lengthAdjust="spacingAndGlyphs">Jobbik</text>
<text x="969.8" y="128.1" class="bv" fill="#fff" stroke="#fff">17,6</text>
<rect x="963" y="146.4" width="17.0" height="29.6" fill="#86C653"/>
<text x="951.6" y="165.5" text-anchor="end" class="bl" textLength="21" lengthAdjust="spacingAndGlyphs">LMP</text>
<text x="969.8" y="165.2" class="bv" fill="#222" stroke="#222">7,2</text>
<rect x="963" y="183.5" width="15.8" height="29.6" fill="#1E88DA"/>
<text x="951.6" y="202.6" text-anchor="end" class="bl" textLength="12.8" lengthAdjust="spacingAndGlyphs">DK</text>
<text x="969.8" y="202.3" class="bv" fill="#222" stroke="#222">6,7</text>
<rect x="963" y="220.6" width="1.7" height="29.6" fill="#E8D020"/>
<text x="951.6" y="239.7" text-anchor="end" class="bl" textLength="29.7" lengthAdjust="spacingAndGlyphs">Együtt</text>
<text x="969.8" y="239.4" class="bv" fill="#222" stroke="#222">0,7</text>
<text x="951.6" y="276.8" text-anchor="end" class="bl" textLength="41.3" lengthAdjust="spacingAndGlyphs">Dialogue</text>
<text x="969.8" y="276.5" class="bv" fill="#222" stroke="#222">0,0</text>
<text x="951.6" y="313.9" text-anchor="end" class="bl" textLength="21.5" lengthAdjust="spacingAndGlyphs">MLP</text>
<text x="969.8" y="313.6" class="bv" fill="#222" stroke="#222">0,0</text>
<rect x="963" y="331.9" width="2.4" height="29.6" fill="#555"/>
<text x="951.6" y="351.0" text-anchor="end" class="bl" textLength="28" lengthAdjust="spacingAndGlyphs">MKKP</text>
<text x="969.8" y="350.7" class="bv" fill="#222" stroke="#222">1,0</text>
<rect x="963" y="369.0" width="5.2" height="29.6" fill="#8E6FD0"/>
<text x="951.6" y="388.1" text-anchor="end" class="bl" textLength="19.8" lengthAdjust="spacingAndGlyphs">MM</text>
<text x="969.8" y="387.8" class="bv" fill="#222" stroke="#222">2,2</text>
<rect x="963" y="406.1" width="3.8" height="29.6" fill="#D6D6D6"/>
<text x="951.6" y="425.2" text-anchor="end" class="bl" textLength="28" lengthAdjust="spacingAndGlyphs">Other</text>
<text x="969.8" y="424.9" class="bv" fill="#222" stroke="#222">1,6</text>
<line x1="963" y1="31" x2="963" y2="439" stroke="#505050" stroke-width="1.2"/>
<text x="923" y="19" class="tt">30 day average - <tspan font-style="italic">2018-04-03</tspan></text>
</g>
</svg>
</body></html>
